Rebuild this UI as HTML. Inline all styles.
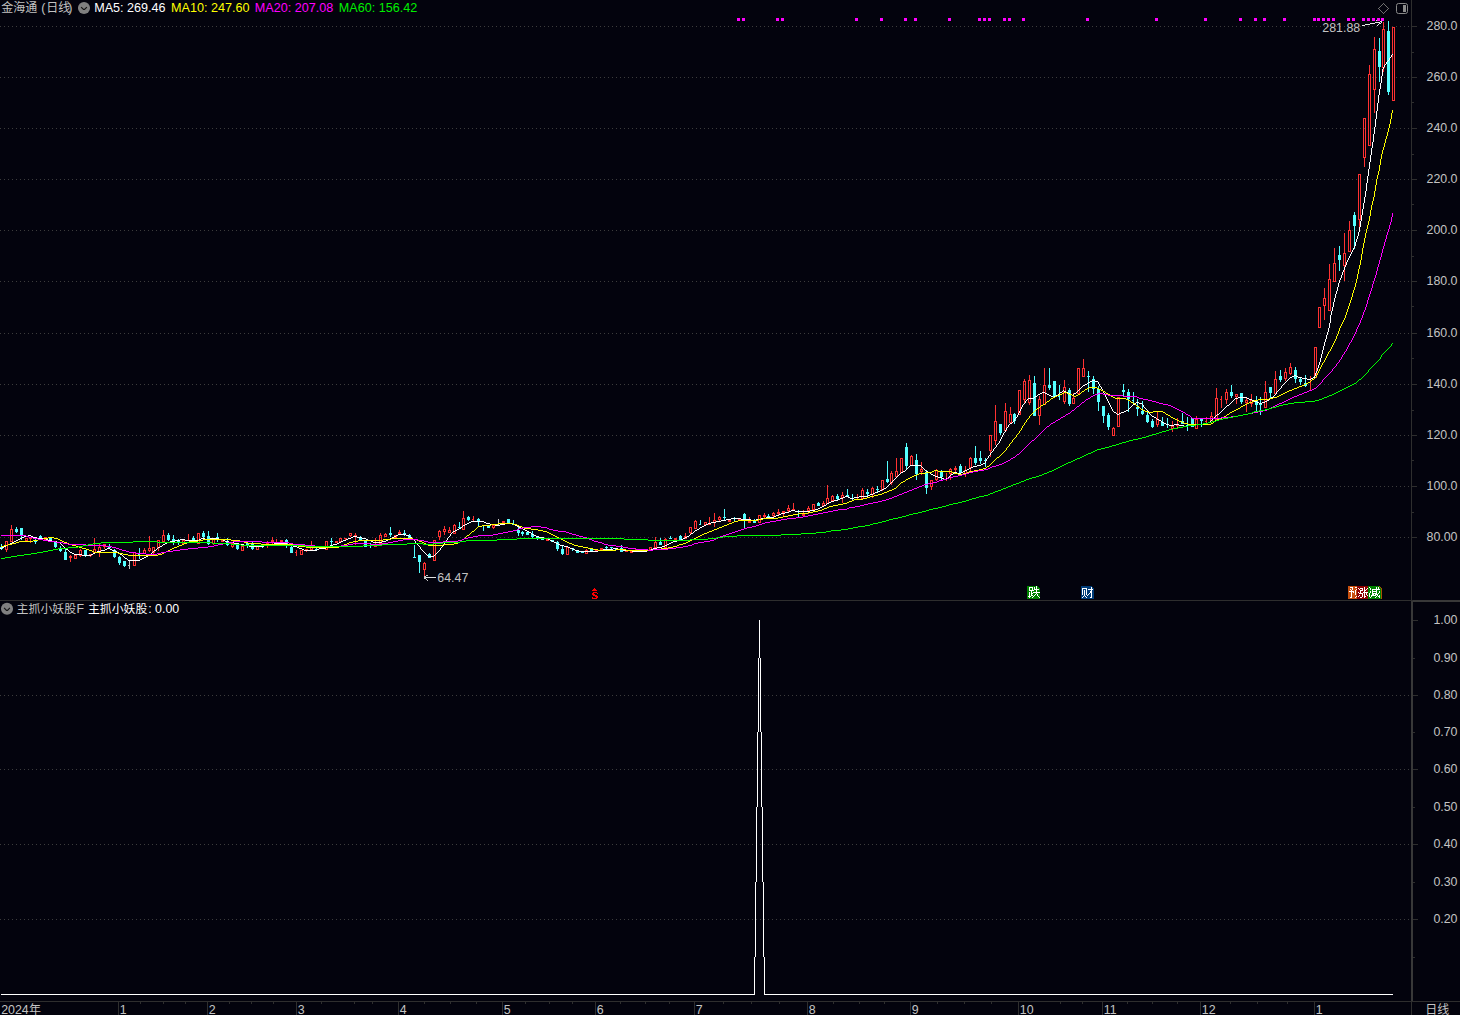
<!DOCTYPE html>
<html><head><meta charset="utf-8"><title>chart</title>
<style>
html,body{margin:0;padding:0;background:#03030d;overflow:hidden}
svg{display:block;font-family:"Liberation Sans","Noto Sans CJK SC",sans-serif}
</style></head><body>
<svg width="1460" height="1015" viewBox="0 0 1460 1015" shape-rendering="crispEdges">
<rect width="1460" height="1015" fill="#03030d"/>
<path d="M0 26.5H1411" stroke="#3c3c3c" stroke-width="1" stroke-dasharray="1 3" fill="none"/>
<path d="M0 77.5H1411" stroke="#3c3c3c" stroke-width="1" stroke-dasharray="1 3" fill="none"/>
<path d="M0 128.5H1411" stroke="#3c3c3c" stroke-width="1" stroke-dasharray="1 3" fill="none"/>
<path d="M0 179.5H1411" stroke="#3c3c3c" stroke-width="1" stroke-dasharray="1 3" fill="none"/>
<path d="M0 230.5H1411" stroke="#3c3c3c" stroke-width="1" stroke-dasharray="1 3" fill="none"/>
<path d="M0 281.5H1411" stroke="#3c3c3c" stroke-width="1" stroke-dasharray="1 3" fill="none"/>
<path d="M0 333.5H1411" stroke="#3c3c3c" stroke-width="1" stroke-dasharray="1 3" fill="none"/>
<path d="M0 384.5H1411" stroke="#3c3c3c" stroke-width="1" stroke-dasharray="1 3" fill="none"/>
<path d="M0 435.5H1411" stroke="#3c3c3c" stroke-width="1" stroke-dasharray="1 3" fill="none"/>
<path d="M0 486.5H1411" stroke="#3c3c3c" stroke-width="1" stroke-dasharray="1 3" fill="none"/>
<path d="M0 537.5H1411" stroke="#3c3c3c" stroke-width="1" stroke-dasharray="1 3" fill="none"/>
<path d="M0 695.5H1411" stroke="#3c3c3c" stroke-width="1" stroke-dasharray="1 3" fill="none"/>
<path d="M0 769.5H1411" stroke="#3c3c3c" stroke-width="1" stroke-dasharray="1 3" fill="none"/>
<path d="M0 844.5H1411" stroke="#3c3c3c" stroke-width="1" stroke-dasharray="1 3" fill="none"/>
<path d="M0 919.5H1411" stroke="#3c3c3c" stroke-width="1" stroke-dasharray="1 3" fill="none"/>
<rect x="1411" y="0" width="1" height="600" fill="#2e2e2e"/>
<rect x="0" y="600" width="1460" height="1" fill="#2e2e2e"/>
<rect x="1411" y="601" width="2" height="400" fill="#383838"/>
<rect x="1413" y="600" width="47" height="2" fill="#383838"/>
<rect x="0" y="1001" width="1460" height="1" fill="#2e2e2e"/>
<rect x="1411" y="1002" width="1" height="13" fill="#2e2e2e"/>
<rect x="1412" y="26" width="5" height="1" fill="#2e2e2e"/>
<text x="1457.5" y="29.7" fill="#c3c3c3" font-size="12.4" text-anchor="end">280.0</text>
<rect x="1412" y="77" width="5" height="1" fill="#2e2e2e"/>
<text x="1457.5" y="80.7" fill="#c3c3c3" font-size="12.4" text-anchor="end">260.0</text>
<rect x="1412" y="128" width="5" height="1" fill="#2e2e2e"/>
<text x="1457.5" y="131.7" fill="#c3c3c3" font-size="12.4" text-anchor="end">240.0</text>
<rect x="1412" y="179" width="5" height="1" fill="#2e2e2e"/>
<text x="1457.5" y="182.7" fill="#c3c3c3" font-size="12.4" text-anchor="end">220.0</text>
<rect x="1412" y="230" width="5" height="1" fill="#2e2e2e"/>
<text x="1457.5" y="233.7" fill="#c3c3c3" font-size="12.4" text-anchor="end">200.0</text>
<rect x="1412" y="281" width="5" height="1" fill="#2e2e2e"/>
<text x="1457.5" y="284.7" fill="#c3c3c3" font-size="12.4" text-anchor="end">180.0</text>
<rect x="1412" y="333" width="5" height="1" fill="#2e2e2e"/>
<text x="1457.5" y="336.7" fill="#c3c3c3" font-size="12.4" text-anchor="end">160.0</text>
<rect x="1412" y="384" width="5" height="1" fill="#2e2e2e"/>
<text x="1457.5" y="387.7" fill="#c3c3c3" font-size="12.4" text-anchor="end">140.0</text>
<rect x="1412" y="435" width="5" height="1" fill="#2e2e2e"/>
<text x="1457.5" y="438.7" fill="#c3c3c3" font-size="12.4" text-anchor="end">120.0</text>
<rect x="1412" y="486" width="5" height="1" fill="#2e2e2e"/>
<text x="1457.5" y="489.7" fill="#c3c3c3" font-size="12.4" text-anchor="end">100.0</text>
<rect x="1412" y="537" width="5" height="1" fill="#2e2e2e"/>
<text x="1457.5" y="540.7" fill="#c3c3c3" font-size="12.4" text-anchor="end">80.00</text>
<rect x="1412" y="52" width="2" height="1" fill="#2e2e2e"/>
<rect x="1412" y="102" width="2" height="1" fill="#2e2e2e"/>
<rect x="1412" y="154" width="2" height="1" fill="#2e2e2e"/>
<rect x="1412" y="204" width="2" height="1" fill="#2e2e2e"/>
<rect x="1412" y="256" width="2" height="1" fill="#2e2e2e"/>
<rect x="1412" y="306" width="2" height="1" fill="#2e2e2e"/>
<rect x="1412" y="358" width="2" height="1" fill="#2e2e2e"/>
<rect x="1412" y="410" width="2" height="1" fill="#2e2e2e"/>
<rect x="1412" y="460" width="2" height="1" fill="#2e2e2e"/>
<rect x="1412" y="512" width="2" height="1" fill="#2e2e2e"/>
<rect x="1413" y="620" width="5" height="1" fill="#2e2e2e"/>
<text x="1457.5" y="623.7" fill="#c3c3c3" font-size="12.4" text-anchor="end">1.00</text>
<rect x="1413" y="658" width="2" height="1" fill="#2e2e2e"/>
<text x="1457.5" y="661.7" fill="#c3c3c3" font-size="12.4" text-anchor="end">0.90</text>
<rect x="1413" y="695" width="5" height="1" fill="#2e2e2e"/>
<text x="1457.5" y="698.7" fill="#c3c3c3" font-size="12.4" text-anchor="end">0.80</text>
<rect x="1413" y="732" width="2" height="1" fill="#2e2e2e"/>
<text x="1457.5" y="735.7" fill="#c3c3c3" font-size="12.4" text-anchor="end">0.70</text>
<rect x="1413" y="769" width="5" height="1" fill="#2e2e2e"/>
<text x="1457.5" y="772.7" fill="#c3c3c3" font-size="12.4" text-anchor="end">0.60</text>
<rect x="1413" y="807" width="2" height="1" fill="#2e2e2e"/>
<text x="1457.5" y="810.7" fill="#c3c3c3" font-size="12.4" text-anchor="end">0.50</text>
<rect x="1413" y="844" width="5" height="1" fill="#2e2e2e"/>
<text x="1457.5" y="847.7" fill="#c3c3c3" font-size="12.4" text-anchor="end">0.40</text>
<rect x="1413" y="882" width="2" height="1" fill="#2e2e2e"/>
<text x="1457.5" y="885.7" fill="#c3c3c3" font-size="12.4" text-anchor="end">0.30</text>
<rect x="1413" y="919" width="5" height="1" fill="#2e2e2e"/>
<text x="1457.5" y="922.7" fill="#c3c3c3" font-size="12.4" text-anchor="end">0.20</text>
<rect x="1413" y="957" width="2" height="1" fill="#2e2e2e"/>
<rect x="1" y="544" width="1" height="6" fill="#54ffff"/>
<rect x="0" y="547" width="3" height="2" fill="#54ffff"/>
<rect x="6" y="550" width="1" height="2" fill="#ff3232"/>
<rect x="5" y="541" width="3" height="1" fill="#ff3232"/>
<rect x="5" y="549" width="3" height="1" fill="#ff3232"/>
<rect x="5" y="542" width="1" height="7" fill="#ff3232"/>
<rect x="7" y="542" width="1" height="7" fill="#ff3232"/>
<rect x="11" y="525" width="1" height="4" fill="#ff3232"/>
<rect x="10" y="529" width="3" height="1" fill="#ff3232"/>
<rect x="10" y="541" width="3" height="1" fill="#ff3232"/>
<rect x="10" y="530" width="1" height="11" fill="#ff3232"/>
<rect x="12" y="530" width="1" height="11" fill="#ff3232"/>
<rect x="16" y="527" width="1" height="6" fill="#54ffff"/>
<rect x="15" y="529" width="3" height="3" fill="#54ffff"/>
<rect x="21" y="528" width="1" height="12" fill="#54ffff"/>
<rect x="20" y="528" width="3" height="7" fill="#54ffff"/>
<rect x="25" y="538" width="3" height="1" fill="#ff3232"/>
<rect x="25" y="540" width="3" height="1" fill="#ff3232"/>
<rect x="25" y="539" width="1" height="1" fill="#ff3232"/>
<rect x="27" y="539" width="1" height="1" fill="#ff3232"/>
<rect x="30" y="537" width="1" height="6" fill="#ff3232"/>
<rect x="29" y="538" width="3" height="1" fill="#ff3232"/>
<rect x="35" y="538" width="1" height="6" fill="#54ffff"/>
<rect x="34" y="540" width="3" height="2" fill="#54ffff"/>
<rect x="40" y="535" width="1" height="5" fill="#54ffff"/>
<rect x="39" y="536" width="3" height="3" fill="#54ffff"/>
<rect x="44" y="537" width="3" height="1" fill="#ff3232"/>
<rect x="44" y="539" width="3" height="1" fill="#ff3232"/>
<rect x="44" y="538" width="1" height="1" fill="#ff3232"/>
<rect x="46" y="538" width="1" height="1" fill="#ff3232"/>
<rect x="50" y="537" width="1" height="4" fill="#54ffff"/>
<rect x="49" y="537" width="3" height="3" fill="#54ffff"/>
<rect x="55" y="541" width="1" height="7" fill="#54ffff"/>
<rect x="54" y="542" width="3" height="5" fill="#54ffff"/>
<rect x="60" y="546" width="1" height="6" fill="#54ffff"/>
<rect x="59" y="548" width="3" height="3" fill="#54ffff"/>
<rect x="65" y="549" width="1" height="11" fill="#54ffff"/>
<rect x="64" y="552" width="3" height="8" fill="#54ffff"/>
<rect x="70" y="555" width="1" height="7" fill="#ff3232"/>
<rect x="69" y="556" width="3" height="2" fill="#ff3232"/>
<rect x="74" y="555" width="3" height="1" fill="#ff3232"/>
<rect x="74" y="558" width="3" height="1" fill="#ff3232"/>
<rect x="74" y="556" width="1" height="2" fill="#ff3232"/>
<rect x="76" y="556" width="1" height="2" fill="#ff3232"/>
<rect x="80" y="549" width="1" height="1" fill="#ff3232"/>
<rect x="80" y="556" width="1" height="1" fill="#ff3232"/>
<rect x="79" y="550" width="3" height="1" fill="#ff3232"/>
<rect x="79" y="555" width="3" height="1" fill="#ff3232"/>
<rect x="79" y="551" width="1" height="4" fill="#ff3232"/>
<rect x="81" y="551" width="1" height="4" fill="#ff3232"/>
<rect x="85" y="550" width="1" height="7" fill="#54ffff"/>
<rect x="84" y="550" width="3" height="6" fill="#54ffff"/>
<rect x="90" y="554" width="1" height="3" fill="#ff3232"/>
<rect x="89" y="554" width="3" height="2" fill="#ff3232"/>
<rect x="94" y="538" width="1" height="11" fill="#ff3232"/>
<rect x="93" y="549" width="3" height="1" fill="#ff3232"/>
<rect x="93" y="552" width="3" height="1" fill="#ff3232"/>
<rect x="93" y="550" width="1" height="2" fill="#ff3232"/>
<rect x="95" y="550" width="1" height="2" fill="#ff3232"/>
<rect x="99" y="544" width="1" height="3" fill="#ff3232"/>
<rect x="99" y="552" width="1" height="5" fill="#ff3232"/>
<rect x="98" y="547" width="3" height="1" fill="#ff3232"/>
<rect x="98" y="551" width="3" height="1" fill="#ff3232"/>
<rect x="98" y="548" width="1" height="3" fill="#ff3232"/>
<rect x="100" y="548" width="1" height="3" fill="#ff3232"/>
<rect x="104" y="547" width="1" height="2" fill="#ff3232"/>
<rect x="103" y="544" width="3" height="1" fill="#ff3232"/>
<rect x="103" y="546" width="3" height="1" fill="#ff3232"/>
<rect x="103" y="545" width="1" height="1" fill="#ff3232"/>
<rect x="105" y="545" width="1" height="1" fill="#ff3232"/>
<rect x="109" y="544" width="1" height="5" fill="#54ffff"/>
<rect x="108" y="546" width="3" height="2" fill="#54ffff"/>
<rect x="114" y="549" width="1" height="9" fill="#54ffff"/>
<rect x="113" y="550" width="3" height="7" fill="#54ffff"/>
<rect x="119" y="556" width="1" height="9" fill="#54ffff"/>
<rect x="118" y="557" width="3" height="6" fill="#54ffff"/>
<rect x="124" y="561" width="1" height="6" fill="#54ffff"/>
<rect x="123" y="561" width="3" height="5" fill="#54ffff"/>
<rect x="129" y="560" width="1" height="9" fill="#c8c8c8"/>
<rect x="128" y="565" width="2" height="1" fill="#c8c8c8"/>
<rect x="133" y="552" width="3" height="1" fill="#ff3232"/>
<rect x="133" y="565" width="3" height="1" fill="#ff3232"/>
<rect x="133" y="553" width="1" height="12" fill="#ff3232"/>
<rect x="135" y="553" width="1" height="12" fill="#ff3232"/>
<rect x="139" y="548" width="1" height="11" fill="#54ffff"/>
<rect x="138" y="554" width="1" height="1" fill="#54ffff"/>
<rect x="144" y="548" width="1" height="2" fill="#ff3232"/>
<rect x="143" y="550" width="3" height="1" fill="#ff3232"/>
<rect x="143" y="553" width="3" height="1" fill="#ff3232"/>
<rect x="143" y="551" width="1" height="2" fill="#ff3232"/>
<rect x="145" y="551" width="1" height="2" fill="#ff3232"/>
<rect x="149" y="536" width="1" height="12" fill="#ff3232"/>
<rect x="149" y="551" width="1" height="1" fill="#ff3232"/>
<rect x="148" y="548" width="3" height="1" fill="#ff3232"/>
<rect x="148" y="550" width="3" height="1" fill="#ff3232"/>
<rect x="148" y="549" width="1" height="1" fill="#ff3232"/>
<rect x="150" y="549" width="1" height="1" fill="#ff3232"/>
<rect x="153" y="553" width="1" height="1" fill="#ff3232"/>
<rect x="152" y="547" width="3" height="1" fill="#ff3232"/>
<rect x="152" y="552" width="3" height="1" fill="#ff3232"/>
<rect x="152" y="548" width="1" height="4" fill="#ff3232"/>
<rect x="154" y="548" width="1" height="4" fill="#ff3232"/>
<rect x="158" y="548" width="1" height="3" fill="#ff3232"/>
<rect x="157" y="540" width="3" height="1" fill="#ff3232"/>
<rect x="157" y="547" width="3" height="1" fill="#ff3232"/>
<rect x="157" y="541" width="1" height="6" fill="#ff3232"/>
<rect x="159" y="541" width="1" height="6" fill="#ff3232"/>
<rect x="163" y="530" width="1" height="5" fill="#ff3232"/>
<rect x="162" y="535" width="3" height="1" fill="#ff3232"/>
<rect x="162" y="541" width="3" height="1" fill="#ff3232"/>
<rect x="162" y="536" width="1" height="5" fill="#ff3232"/>
<rect x="164" y="536" width="1" height="5" fill="#ff3232"/>
<rect x="168" y="533" width="1" height="8" fill="#54ffff"/>
<rect x="167" y="535" width="3" height="5" fill="#54ffff"/>
<rect x="173" y="535" width="1" height="10" fill="#54ffff"/>
<rect x="172" y="539" width="3" height="3" fill="#54ffff"/>
<rect x="178" y="539" width="1" height="6" fill="#54ffff"/>
<rect x="177" y="540" width="3" height="3" fill="#54ffff"/>
<rect x="182" y="540" width="3" height="1" fill="#ff3232"/>
<rect x="182" y="543" width="3" height="1" fill="#ff3232"/>
<rect x="182" y="541" width="1" height="2" fill="#ff3232"/>
<rect x="184" y="541" width="1" height="2" fill="#ff3232"/>
<rect x="188" y="534" width="1" height="7" fill="#ff3232"/>
<rect x="187" y="540" width="3" height="1" fill="#ff3232"/>
<rect x="193" y="536" width="1" height="6" fill="#54ffff"/>
<rect x="192" y="538" width="3" height="4" fill="#54ffff"/>
<rect x="197" y="533" width="3" height="1" fill="#ff3232"/>
<rect x="197" y="543" width="3" height="1" fill="#ff3232"/>
<rect x="197" y="534" width="1" height="9" fill="#ff3232"/>
<rect x="199" y="534" width="1" height="9" fill="#ff3232"/>
<rect x="203" y="531" width="1" height="8" fill="#54ffff"/>
<rect x="202" y="533" width="3" height="4" fill="#54ffff"/>
<rect x="208" y="531" width="1" height="14" fill="#54ffff"/>
<rect x="207" y="536" width="3" height="8" fill="#54ffff"/>
<rect x="213" y="544" width="1" height="1" fill="#ff3232"/>
<rect x="212" y="538" width="3" height="1" fill="#ff3232"/>
<rect x="212" y="543" width="3" height="1" fill="#ff3232"/>
<rect x="212" y="539" width="1" height="4" fill="#ff3232"/>
<rect x="214" y="539" width="1" height="4" fill="#ff3232"/>
<rect x="217" y="533" width="1" height="9" fill="#54ffff"/>
<rect x="216" y="537" width="3" height="3" fill="#54ffff"/>
<rect x="222" y="540" width="1" height="2" fill="#ff3232"/>
<rect x="221" y="540" width="3" height="2" fill="#ff3232"/>
<rect x="227" y="538" width="1" height="8" fill="#54ffff"/>
<rect x="226" y="541" width="3" height="4" fill="#54ffff"/>
<rect x="232" y="547" width="1" height="1" fill="#ff3232"/>
<rect x="231" y="543" width="3" height="1" fill="#ff3232"/>
<rect x="231" y="546" width="3" height="1" fill="#ff3232"/>
<rect x="231" y="544" width="1" height="2" fill="#ff3232"/>
<rect x="233" y="544" width="1" height="2" fill="#ff3232"/>
<rect x="237" y="543" width="1" height="7" fill="#54ffff"/>
<rect x="236" y="543" width="3" height="6" fill="#54ffff"/>
<rect x="241" y="546" width="3" height="1" fill="#ff3232"/>
<rect x="241" y="550" width="3" height="1" fill="#ff3232"/>
<rect x="241" y="547" width="1" height="3" fill="#ff3232"/>
<rect x="243" y="547" width="1" height="3" fill="#ff3232"/>
<rect x="247" y="542" width="1" height="6" fill="#54ffff"/>
<rect x="246" y="543" width="3" height="2" fill="#54ffff"/>
<rect x="252" y="542" width="1" height="8" fill="#54ffff"/>
<rect x="251" y="544" width="3" height="5" fill="#54ffff"/>
<rect x="256" y="546" width="3" height="1" fill="#ff3232"/>
<rect x="256" y="549" width="3" height="1" fill="#ff3232"/>
<rect x="256" y="547" width="1" height="2" fill="#ff3232"/>
<rect x="258" y="547" width="1" height="2" fill="#ff3232"/>
<rect x="262" y="544" width="1" height="4" fill="#54ffff"/>
<rect x="261" y="545" width="1" height="1" fill="#54ffff"/>
<rect x="267" y="541" width="1" height="7" fill="#ff3232"/>
<rect x="266" y="543" width="3" height="2" fill="#ff3232"/>
<rect x="272" y="537" width="1" height="3" fill="#ff3232"/>
<rect x="272" y="542" width="1" height="2" fill="#ff3232"/>
<rect x="271" y="540" width="3" height="2" fill="#ff3232"/>
<rect x="276" y="539" width="1" height="5" fill="#ff3232"/>
<rect x="275" y="542" width="3" height="2" fill="#ff3232"/>
<rect x="281" y="540" width="1" height="3" fill="#ff3232"/>
<rect x="280" y="540" width="3" height="2" fill="#ff3232"/>
<rect x="286" y="539" width="1" height="9" fill="#54ffff"/>
<rect x="285" y="540" width="3" height="4" fill="#54ffff"/>
<rect x="291" y="546" width="1" height="7" fill="#54ffff"/>
<rect x="290" y="547" width="3" height="6" fill="#54ffff"/>
<rect x="296" y="550" width="1" height="6" fill="#ff3232"/>
<rect x="295" y="552" width="1" height="1" fill="#ff3232"/>
<rect x="300" y="550" width="3" height="1" fill="#ff3232"/>
<rect x="300" y="554" width="3" height="1" fill="#ff3232"/>
<rect x="300" y="551" width="1" height="3" fill="#ff3232"/>
<rect x="302" y="551" width="1" height="3" fill="#ff3232"/>
<rect x="306" y="549" width="1" height="3" fill="#ff3232"/>
<rect x="305" y="549" width="3" height="2" fill="#ff3232"/>
<rect x="311" y="541" width="1" height="5" fill="#ff3232"/>
<rect x="310" y="546" width="3" height="1" fill="#ff3232"/>
<rect x="310" y="549" width="3" height="1" fill="#ff3232"/>
<rect x="310" y="547" width="1" height="2" fill="#ff3232"/>
<rect x="312" y="547" width="1" height="2" fill="#ff3232"/>
<rect x="316" y="548" width="1" height="3" fill="#54ffff"/>
<rect x="315" y="549" width="3" height="1" fill="#54ffff"/>
<rect x="321" y="546" width="1" height="2" fill="#ff3232"/>
<rect x="320" y="546" width="3" height="2" fill="#ff3232"/>
<rect x="325" y="541" width="3" height="1" fill="#ff3232"/>
<rect x="325" y="549" width="3" height="1" fill="#ff3232"/>
<rect x="325" y="542" width="1" height="7" fill="#ff3232"/>
<rect x="327" y="542" width="1" height="7" fill="#ff3232"/>
<rect x="331" y="538" width="1" height="7" fill="#54ffff"/>
<rect x="330" y="541" width="3" height="1" fill="#54ffff"/>
<rect x="336" y="541" width="1" height="2" fill="#ff3232"/>
<rect x="335" y="541" width="3" height="2" fill="#ff3232"/>
<rect x="339" y="538" width="3" height="1" fill="#ff3232"/>
<rect x="339" y="541" width="3" height="1" fill="#ff3232"/>
<rect x="339" y="539" width="1" height="2" fill="#ff3232"/>
<rect x="341" y="539" width="1" height="2" fill="#ff3232"/>
<rect x="345" y="538" width="1" height="2" fill="#ff3232"/>
<rect x="344" y="538" width="3" height="1" fill="#ff3232"/>
<rect x="350" y="536" width="1" height="1" fill="#ff3232"/>
<rect x="349" y="533" width="3" height="1" fill="#ff3232"/>
<rect x="349" y="535" width="3" height="1" fill="#ff3232"/>
<rect x="349" y="534" width="1" height="1" fill="#ff3232"/>
<rect x="351" y="534" width="1" height="1" fill="#ff3232"/>
<rect x="355" y="533" width="1" height="12" fill="#ff3232"/>
<rect x="354" y="535" width="3" height="2" fill="#ff3232"/>
<rect x="360" y="536" width="1" height="4" fill="#54ffff"/>
<rect x="359" y="537" width="3" height="3" fill="#54ffff"/>
<rect x="365" y="540" width="1" height="7" fill="#54ffff"/>
<rect x="364" y="540" width="3" height="7" fill="#54ffff"/>
<rect x="370" y="543" width="1" height="5" fill="#54ffff"/>
<rect x="369" y="545" width="1" height="1" fill="#54ffff"/>
<rect x="375" y="538" width="1" height="6" fill="#ff3232"/>
<rect x="374" y="544" width="3" height="1" fill="#ff3232"/>
<rect x="374" y="546" width="3" height="1" fill="#ff3232"/>
<rect x="374" y="545" width="1" height="1" fill="#ff3232"/>
<rect x="376" y="545" width="1" height="1" fill="#ff3232"/>
<rect x="380" y="533" width="1" height="2" fill="#ff3232"/>
<rect x="379" y="535" width="3" height="1" fill="#ff3232"/>
<rect x="379" y="543" width="3" height="1" fill="#ff3232"/>
<rect x="379" y="536" width="1" height="7" fill="#ff3232"/>
<rect x="381" y="536" width="1" height="7" fill="#ff3232"/>
<rect x="385" y="533" width="1" height="1" fill="#ff3232"/>
<rect x="384" y="534" width="3" height="1" fill="#ff3232"/>
<rect x="384" y="536" width="3" height="1" fill="#ff3232"/>
<rect x="384" y="535" width="1" height="1" fill="#ff3232"/>
<rect x="386" y="535" width="1" height="1" fill="#ff3232"/>
<rect x="390" y="527" width="1" height="10" fill="#54ffff"/>
<rect x="389" y="533" width="3" height="2" fill="#54ffff"/>
<rect x="394" y="535" width="3" height="1" fill="#ff3232"/>
<rect x="394" y="537" width="3" height="1" fill="#ff3232"/>
<rect x="394" y="536" width="1" height="1" fill="#ff3232"/>
<rect x="396" y="536" width="1" height="1" fill="#ff3232"/>
<rect x="399" y="530" width="1" height="4" fill="#ff3232"/>
<rect x="398" y="532" width="3" height="2" fill="#ff3232"/>
<rect x="404" y="530" width="1" height="6" fill="#54ffff"/>
<rect x="403" y="533" width="3" height="1" fill="#54ffff"/>
<rect x="409" y="534" width="1" height="4" fill="#54ffff"/>
<rect x="408" y="535" width="3" height="3" fill="#54ffff"/>
<rect x="414" y="545" width="1" height="13" fill="#54ffff"/>
<rect x="413" y="557" width="3" height="1" fill="#54ffff"/>
<rect x="419" y="555" width="1" height="18" fill="#54ffff"/>
<rect x="418" y="555" width="3" height="7" fill="#54ffff"/>
<rect x="424" y="562" width="1" height="1" fill="#ff3232"/>
<rect x="424" y="570" width="1" height="6" fill="#ff3232"/>
<rect x="423" y="563" width="3" height="1" fill="#ff3232"/>
<rect x="423" y="569" width="3" height="1" fill="#ff3232"/>
<rect x="423" y="564" width="1" height="5" fill="#ff3232"/>
<rect x="425" y="564" width="1" height="5" fill="#ff3232"/>
<rect x="429" y="553" width="1" height="5" fill="#54ffff"/>
<rect x="428" y="554" width="3" height="4" fill="#54ffff"/>
<rect x="433" y="540" width="3" height="1" fill="#ff3232"/>
<rect x="433" y="560" width="3" height="1" fill="#ff3232"/>
<rect x="433" y="541" width="1" height="19" fill="#ff3232"/>
<rect x="435" y="541" width="1" height="19" fill="#ff3232"/>
<rect x="439" y="530" width="1" height="1" fill="#ff3232"/>
<rect x="439" y="537" width="1" height="3" fill="#ff3232"/>
<rect x="438" y="531" width="3" height="1" fill="#ff3232"/>
<rect x="438" y="536" width="3" height="1" fill="#ff3232"/>
<rect x="438" y="532" width="1" height="4" fill="#ff3232"/>
<rect x="440" y="532" width="1" height="4" fill="#ff3232"/>
<rect x="444" y="526" width="1" height="3" fill="#ff3232"/>
<rect x="444" y="532" width="1" height="3" fill="#ff3232"/>
<rect x="443" y="529" width="3" height="1" fill="#ff3232"/>
<rect x="443" y="531" width="3" height="1" fill="#ff3232"/>
<rect x="443" y="530" width="1" height="1" fill="#ff3232"/>
<rect x="445" y="530" width="1" height="1" fill="#ff3232"/>
<rect x="449" y="527" width="1" height="3" fill="#ff3232"/>
<rect x="448" y="530" width="3" height="1" fill="#ff3232"/>
<rect x="448" y="532" width="3" height="1" fill="#ff3232"/>
<rect x="448" y="531" width="1" height="1" fill="#ff3232"/>
<rect x="450" y="531" width="1" height="1" fill="#ff3232"/>
<rect x="454" y="524" width="1" height="1" fill="#ff3232"/>
<rect x="453" y="525" width="3" height="1" fill="#ff3232"/>
<rect x="453" y="533" width="3" height="1" fill="#ff3232"/>
<rect x="453" y="526" width="1" height="7" fill="#ff3232"/>
<rect x="455" y="526" width="1" height="7" fill="#ff3232"/>
<rect x="459" y="522" width="1" height="6" fill="#54ffff"/>
<rect x="458" y="527" width="3" height="1" fill="#54ffff"/>
<rect x="463" y="511" width="1" height="7" fill="#ff3232"/>
<rect x="462" y="518" width="3" height="1" fill="#ff3232"/>
<rect x="462" y="529" width="3" height="1" fill="#ff3232"/>
<rect x="462" y="519" width="1" height="10" fill="#ff3232"/>
<rect x="464" y="519" width="1" height="10" fill="#ff3232"/>
<rect x="468" y="516" width="1" height="5" fill="#54ffff"/>
<rect x="467" y="517" width="3" height="3" fill="#54ffff"/>
<rect x="473" y="516" width="1" height="6" fill="#ff3232"/>
<rect x="472" y="519" width="1" height="1" fill="#ff3232"/>
<rect x="478" y="518" width="1" height="8" fill="#54ffff"/>
<rect x="477" y="519" width="3" height="3" fill="#54ffff"/>
<rect x="483" y="525" width="1" height="6" fill="#54ffff"/>
<rect x="482" y="525" width="3" height="1" fill="#54ffff"/>
<rect x="488" y="525" width="1" height="3" fill="#54ffff"/>
<rect x="487" y="526" width="3" height="2" fill="#54ffff"/>
<rect x="493" y="528" width="1" height="1" fill="#ff3232"/>
<rect x="492" y="525" width="3" height="1" fill="#ff3232"/>
<rect x="492" y="527" width="3" height="1" fill="#ff3232"/>
<rect x="492" y="526" width="1" height="1" fill="#ff3232"/>
<rect x="494" y="526" width="1" height="1" fill="#ff3232"/>
<rect x="498" y="519" width="1" height="7" fill="#c8c8c8"/>
<rect x="497" y="525" width="2" height="1" fill="#c8c8c8"/>
<rect x="503" y="521" width="1" height="2" fill="#ff3232"/>
<rect x="502" y="521" width="3" height="2" fill="#ff3232"/>
<rect x="508" y="519" width="1" height="4" fill="#54ffff"/>
<rect x="507" y="519" width="3" height="4" fill="#54ffff"/>
<rect x="513" y="520" width="1" height="5" fill="#54ffff"/>
<rect x="512" y="524" width="3" height="1" fill="#54ffff"/>
<rect x="518" y="525" width="1" height="11" fill="#54ffff"/>
<rect x="517" y="530" width="3" height="3" fill="#54ffff"/>
<rect x="522" y="531" width="1" height="5" fill="#54ffff"/>
<rect x="521" y="532" width="3" height="2" fill="#54ffff"/>
<rect x="527" y="532" width="1" height="3" fill="#54ffff"/>
<rect x="526" y="532" width="3" height="3" fill="#54ffff"/>
<rect x="532" y="531" width="1" height="7" fill="#54ffff"/>
<rect x="531" y="534" width="3" height="3" fill="#54ffff"/>
<rect x="537" y="536" width="1" height="4" fill="#54ffff"/>
<rect x="536" y="537" width="3" height="2" fill="#54ffff"/>
<rect x="542" y="539" width="1" height="1" fill="#54ffff"/>
<rect x="541" y="539" width="3" height="1" fill="#54ffff"/>
<rect x="547" y="539" width="1" height="2" fill="#ff3232"/>
<rect x="546" y="539" width="3" height="2" fill="#ff3232"/>
<rect x="552" y="540" width="1" height="2" fill="#54ffff"/>
<rect x="551" y="540" width="3" height="2" fill="#54ffff"/>
<rect x="557" y="541" width="1" height="10" fill="#54ffff"/>
<rect x="556" y="542" width="3" height="7" fill="#54ffff"/>
<rect x="562" y="546" width="1" height="9" fill="#54ffff"/>
<rect x="561" y="549" width="3" height="5" fill="#54ffff"/>
<rect x="566" y="547" width="3" height="1" fill="#ff3232"/>
<rect x="566" y="554" width="3" height="1" fill="#ff3232"/>
<rect x="566" y="548" width="1" height="6" fill="#ff3232"/>
<rect x="568" y="548" width="1" height="6" fill="#ff3232"/>
<rect x="572" y="548" width="1" height="3" fill="#54ffff"/>
<rect x="571" y="548" width="3" height="1" fill="#54ffff"/>
<rect x="577" y="551" width="1" height="2" fill="#54ffff"/>
<rect x="576" y="551" width="3" height="2" fill="#54ffff"/>
<rect x="582" y="552" width="1" height="1" fill="#54ffff"/>
<rect x="581" y="552" width="3" height="1" fill="#54ffff"/>
<rect x="586" y="549" width="1" height="1" fill="#ff3232"/>
<rect x="585" y="550" width="3" height="1" fill="#ff3232"/>
<rect x="585" y="553" width="3" height="1" fill="#ff3232"/>
<rect x="585" y="551" width="1" height="2" fill="#ff3232"/>
<rect x="587" y="551" width="1" height="2" fill="#ff3232"/>
<rect x="591" y="549" width="1" height="2" fill="#54ffff"/>
<rect x="590" y="549" width="3" height="2" fill="#54ffff"/>
<rect x="596" y="550" width="1" height="1" fill="#ff3232"/>
<rect x="595" y="550" width="3" height="1" fill="#ff3232"/>
<rect x="600" y="548" width="3" height="2" fill="#ff3232"/>
<rect x="606" y="546" width="1" height="3" fill="#54ffff"/>
<rect x="605" y="547" width="3" height="1" fill="#54ffff"/>
<rect x="611" y="547" width="1" height="3" fill="#54ffff"/>
<rect x="610" y="547" width="3" height="1" fill="#54ffff"/>
<rect x="616" y="549" width="1" height="1" fill="#54ffff"/>
<rect x="615" y="549" width="3" height="1" fill="#54ffff"/>
<rect x="621" y="545" width="1" height="7" fill="#54ffff"/>
<rect x="620" y="548" width="3" height="4" fill="#54ffff"/>
<rect x="626" y="551" width="1" height="1" fill="#ff3232"/>
<rect x="625" y="551" width="3" height="1" fill="#ff3232"/>
<rect x="631" y="551" width="1" height="2" fill="#ff3232"/>
<rect x="630" y="551" width="3" height="2" fill="#ff3232"/>
<rect x="636" y="549" width="1" height="2" fill="#ff3232"/>
<rect x="635" y="549" width="3" height="2" fill="#ff3232"/>
<rect x="641" y="549" width="1" height="1" fill="#ff3232"/>
<rect x="640" y="549" width="3" height="1" fill="#ff3232"/>
<rect x="645" y="549" width="1" height="2" fill="#ff3232"/>
<rect x="644" y="549" width="3" height="2" fill="#ff3232"/>
<rect x="649" y="547" width="3" height="1" fill="#ff3232"/>
<rect x="649" y="549" width="3" height="1" fill="#ff3232"/>
<rect x="649" y="548" width="1" height="1" fill="#ff3232"/>
<rect x="651" y="548" width="1" height="1" fill="#ff3232"/>
<rect x="655" y="537" width="1" height="5" fill="#ff3232"/>
<rect x="654" y="542" width="3" height="1" fill="#ff3232"/>
<rect x="654" y="547" width="3" height="1" fill="#ff3232"/>
<rect x="654" y="543" width="1" height="4" fill="#ff3232"/>
<rect x="656" y="543" width="1" height="4" fill="#ff3232"/>
<rect x="660" y="538" width="1" height="7" fill="#54ffff"/>
<rect x="659" y="542" width="3" height="3" fill="#54ffff"/>
<rect x="665" y="538" width="1" height="1" fill="#ff3232"/>
<rect x="664" y="539" width="3" height="1" fill="#ff3232"/>
<rect x="664" y="547" width="3" height="1" fill="#ff3232"/>
<rect x="664" y="540" width="1" height="7" fill="#ff3232"/>
<rect x="666" y="540" width="1" height="7" fill="#ff3232"/>
<rect x="670" y="536" width="1" height="3" fill="#54ffff"/>
<rect x="669" y="538" width="3" height="1" fill="#54ffff"/>
<rect x="675" y="538" width="1" height="2" fill="#ff3232"/>
<rect x="674" y="538" width="3" height="2" fill="#ff3232"/>
<rect x="680" y="535" width="1" height="5" fill="#54ffff"/>
<rect x="679" y="536" width="3" height="4" fill="#54ffff"/>
<rect x="685" y="533" width="1" height="3" fill="#ff3232"/>
<rect x="684" y="536" width="3" height="1" fill="#ff3232"/>
<rect x="684" y="538" width="3" height="1" fill="#ff3232"/>
<rect x="684" y="537" width="1" height="1" fill="#ff3232"/>
<rect x="686" y="537" width="1" height="1" fill="#ff3232"/>
<rect x="690" y="533" width="1" height="2" fill="#ff3232"/>
<rect x="689" y="527" width="3" height="1" fill="#ff3232"/>
<rect x="689" y="532" width="3" height="1" fill="#ff3232"/>
<rect x="689" y="528" width="1" height="4" fill="#ff3232"/>
<rect x="691" y="528" width="1" height="4" fill="#ff3232"/>
<rect x="695" y="520" width="1" height="1" fill="#ff3232"/>
<rect x="694" y="521" width="3" height="1" fill="#ff3232"/>
<rect x="694" y="528" width="3" height="1" fill="#ff3232"/>
<rect x="694" y="522" width="1" height="6" fill="#ff3232"/>
<rect x="696" y="522" width="1" height="6" fill="#ff3232"/>
<rect x="700" y="520" width="1" height="5" fill="#54ffff"/>
<rect x="699" y="524" width="1" height="1" fill="#54ffff"/>
<rect x="704" y="522" width="3" height="1" fill="#ff3232"/>
<rect x="704" y="524" width="3" height="1" fill="#ff3232"/>
<rect x="704" y="523" width="1" height="1" fill="#ff3232"/>
<rect x="706" y="523" width="1" height="1" fill="#ff3232"/>
<rect x="709" y="517" width="1" height="8" fill="#ff3232"/>
<rect x="708" y="523" width="3" height="2" fill="#ff3232"/>
<rect x="714" y="513" width="1" height="7" fill="#ff3232"/>
<rect x="714" y="523" width="1" height="4" fill="#ff3232"/>
<rect x="713" y="520" width="3" height="1" fill="#ff3232"/>
<rect x="713" y="522" width="3" height="1" fill="#ff3232"/>
<rect x="713" y="521" width="1" height="1" fill="#ff3232"/>
<rect x="715" y="521" width="1" height="1" fill="#ff3232"/>
<rect x="719" y="516" width="1" height="1" fill="#ff3232"/>
<rect x="719" y="520" width="1" height="1" fill="#ff3232"/>
<rect x="718" y="517" width="3" height="1" fill="#ff3232"/>
<rect x="718" y="519" width="3" height="1" fill="#ff3232"/>
<rect x="718" y="518" width="1" height="1" fill="#ff3232"/>
<rect x="720" y="518" width="1" height="1" fill="#ff3232"/>
<rect x="724" y="509" width="1" height="11" fill="#54ffff"/>
<rect x="723" y="517" width="3" height="1" fill="#54ffff"/>
<rect x="729" y="520" width="1" height="2" fill="#ff3232"/>
<rect x="728" y="520" width="3" height="2" fill="#ff3232"/>
<rect x="734" y="517" width="1" height="4" fill="#54ffff"/>
<rect x="733" y="518" width="3" height="1" fill="#54ffff"/>
<rect x="738" y="518" width="3" height="2" fill="#ff3232"/>
<rect x="744" y="513" width="1" height="15" fill="#54ffff"/>
<rect x="743" y="514" width="3" height="6" fill="#54ffff"/>
<rect x="749" y="517" width="1" height="6" fill="#ff3232"/>
<rect x="748" y="520" width="3" height="3" fill="#ff3232"/>
<rect x="754" y="519" width="1" height="4" fill="#54ffff"/>
<rect x="753" y="521" width="3" height="2" fill="#54ffff"/>
<rect x="758" y="515" width="3" height="1" fill="#ff3232"/>
<rect x="758" y="522" width="3" height="1" fill="#ff3232"/>
<rect x="758" y="516" width="1" height="6" fill="#ff3232"/>
<rect x="760" y="516" width="1" height="6" fill="#ff3232"/>
<rect x="764" y="513" width="1" height="2" fill="#ff3232"/>
<rect x="764" y="517" width="1" height="1" fill="#ff3232"/>
<rect x="763" y="515" width="3" height="2" fill="#ff3232"/>
<rect x="768" y="514" width="1" height="4" fill="#54ffff"/>
<rect x="767" y="516" width="3" height="1" fill="#54ffff"/>
<rect x="773" y="512" width="1" height="1" fill="#ff3232"/>
<rect x="773" y="516" width="1" height="2" fill="#ff3232"/>
<rect x="772" y="513" width="3" height="1" fill="#ff3232"/>
<rect x="772" y="515" width="3" height="1" fill="#ff3232"/>
<rect x="772" y="514" width="1" height="1" fill="#ff3232"/>
<rect x="774" y="514" width="1" height="1" fill="#ff3232"/>
<rect x="778" y="509" width="1" height="6" fill="#ff3232"/>
<rect x="777" y="512" width="3" height="2" fill="#ff3232"/>
<rect x="783" y="513" width="1" height="3" fill="#ff3232"/>
<rect x="782" y="511" width="3" height="2" fill="#ff3232"/>
<rect x="788" y="505" width="1" height="3" fill="#ff3232"/>
<rect x="788" y="511" width="1" height="1" fill="#ff3232"/>
<rect x="787" y="508" width="3" height="1" fill="#ff3232"/>
<rect x="787" y="510" width="3" height="1" fill="#ff3232"/>
<rect x="787" y="509" width="1" height="1" fill="#ff3232"/>
<rect x="789" y="509" width="1" height="1" fill="#ff3232"/>
<rect x="793" y="503" width="1" height="7" fill="#ff3232"/>
<rect x="792" y="509" width="3" height="1" fill="#ff3232"/>
<rect x="798" y="510" width="1" height="7" fill="#54ffff"/>
<rect x="797" y="511" width="3" height="1" fill="#54ffff"/>
<rect x="803" y="510" width="1" height="6" fill="#ff3232"/>
<rect x="802" y="514" width="3" height="2" fill="#ff3232"/>
<rect x="808" y="506" width="1" height="2" fill="#ff3232"/>
<rect x="808" y="511" width="1" height="3" fill="#ff3232"/>
<rect x="807" y="508" width="3" height="1" fill="#ff3232"/>
<rect x="807" y="510" width="3" height="1" fill="#ff3232"/>
<rect x="807" y="509" width="1" height="1" fill="#ff3232"/>
<rect x="809" y="509" width="1" height="1" fill="#ff3232"/>
<rect x="812" y="504" width="3" height="1" fill="#ff3232"/>
<rect x="812" y="509" width="3" height="1" fill="#ff3232"/>
<rect x="812" y="505" width="1" height="4" fill="#ff3232"/>
<rect x="814" y="505" width="1" height="4" fill="#ff3232"/>
<rect x="818" y="502" width="1" height="4" fill="#54ffff"/>
<rect x="817" y="503" width="3" height="3" fill="#54ffff"/>
<rect x="823" y="501" width="1" height="2" fill="#ff3232"/>
<rect x="823" y="506" width="1" height="1" fill="#ff3232"/>
<rect x="822" y="503" width="3" height="1" fill="#ff3232"/>
<rect x="822" y="505" width="3" height="1" fill="#ff3232"/>
<rect x="822" y="504" width="1" height="1" fill="#ff3232"/>
<rect x="824" y="504" width="1" height="1" fill="#ff3232"/>
<rect x="827" y="485" width="1" height="13" fill="#ff3232"/>
<rect x="826" y="498" width="3" height="1" fill="#ff3232"/>
<rect x="826" y="503" width="3" height="1" fill="#ff3232"/>
<rect x="826" y="499" width="1" height="4" fill="#ff3232"/>
<rect x="828" y="499" width="1" height="4" fill="#ff3232"/>
<rect x="832" y="495" width="1" height="1" fill="#ff3232"/>
<rect x="832" y="501" width="1" height="1" fill="#ff3232"/>
<rect x="831" y="496" width="3" height="1" fill="#ff3232"/>
<rect x="831" y="500" width="3" height="1" fill="#ff3232"/>
<rect x="831" y="497" width="1" height="3" fill="#ff3232"/>
<rect x="833" y="497" width="1" height="3" fill="#ff3232"/>
<rect x="837" y="494" width="1" height="6" fill="#54ffff"/>
<rect x="836" y="496" width="3" height="3" fill="#54ffff"/>
<rect x="842" y="492" width="1" height="3" fill="#ff3232"/>
<rect x="842" y="498" width="1" height="5" fill="#ff3232"/>
<rect x="841" y="495" width="3" height="1" fill="#ff3232"/>
<rect x="841" y="497" width="3" height="1" fill="#ff3232"/>
<rect x="841" y="496" width="1" height="1" fill="#ff3232"/>
<rect x="843" y="496" width="1" height="1" fill="#ff3232"/>
<rect x="847" y="489" width="1" height="8" fill="#54ffff"/>
<rect x="846" y="495" width="3" height="2" fill="#54ffff"/>
<rect x="852" y="494" width="1" height="6" fill="#54ffff"/>
<rect x="851" y="498" width="3" height="1" fill="#54ffff"/>
<rect x="857" y="494" width="1" height="5" fill="#ff3232"/>
<rect x="856" y="497" width="1" height="1" fill="#ff3232"/>
<rect x="862" y="488" width="1" height="2" fill="#ff3232"/>
<rect x="861" y="490" width="3" height="1" fill="#ff3232"/>
<rect x="861" y="498" width="3" height="1" fill="#ff3232"/>
<rect x="861" y="491" width="1" height="7" fill="#ff3232"/>
<rect x="863" y="491" width="1" height="7" fill="#ff3232"/>
<rect x="867" y="489" width="1" height="7" fill="#54ffff"/>
<rect x="866" y="492" width="3" height="2" fill="#54ffff"/>
<rect x="872" y="487" width="1" height="1" fill="#ff3232"/>
<rect x="872" y="495" width="1" height="3" fill="#ff3232"/>
<rect x="871" y="488" width="3" height="1" fill="#ff3232"/>
<rect x="871" y="494" width="3" height="1" fill="#ff3232"/>
<rect x="871" y="489" width="1" height="5" fill="#ff3232"/>
<rect x="873" y="489" width="1" height="5" fill="#ff3232"/>
<rect x="877" y="486" width="1" height="6" fill="#54ffff"/>
<rect x="876" y="489" width="3" height="1" fill="#54ffff"/>
<rect x="882" y="490" width="1" height="1" fill="#ff3232"/>
<rect x="881" y="480" width="3" height="1" fill="#ff3232"/>
<rect x="881" y="489" width="3" height="1" fill="#ff3232"/>
<rect x="881" y="481" width="1" height="8" fill="#ff3232"/>
<rect x="883" y="481" width="1" height="8" fill="#ff3232"/>
<rect x="887" y="461" width="1" height="22" fill="#54ffff"/>
<rect x="886" y="479" width="3" height="3" fill="#54ffff"/>
<rect x="891" y="471" width="1" height="2" fill="#ff3232"/>
<rect x="891" y="483" width="1" height="2" fill="#ff3232"/>
<rect x="890" y="473" width="3" height="1" fill="#ff3232"/>
<rect x="890" y="482" width="3" height="1" fill="#ff3232"/>
<rect x="890" y="474" width="1" height="8" fill="#ff3232"/>
<rect x="892" y="474" width="1" height="8" fill="#ff3232"/>
<rect x="896" y="458" width="1" height="13" fill="#ff3232"/>
<rect x="896" y="477" width="1" height="1" fill="#ff3232"/>
<rect x="895" y="471" width="3" height="1" fill="#ff3232"/>
<rect x="895" y="476" width="3" height="1" fill="#ff3232"/>
<rect x="895" y="472" width="1" height="4" fill="#ff3232"/>
<rect x="897" y="472" width="1" height="4" fill="#ff3232"/>
<rect x="900" y="458" width="3" height="1" fill="#ff3232"/>
<rect x="900" y="472" width="3" height="1" fill="#ff3232"/>
<rect x="900" y="459" width="1" height="13" fill="#ff3232"/>
<rect x="902" y="459" width="1" height="13" fill="#ff3232"/>
<rect x="906" y="443" width="1" height="26" fill="#54ffff"/>
<rect x="905" y="447" width="3" height="19" fill="#54ffff"/>
<rect x="911" y="455" width="1" height="1" fill="#ff3232"/>
<rect x="910" y="456" width="3" height="1" fill="#ff3232"/>
<rect x="910" y="465" width="3" height="1" fill="#ff3232"/>
<rect x="910" y="457" width="1" height="8" fill="#ff3232"/>
<rect x="912" y="457" width="1" height="8" fill="#ff3232"/>
<rect x="916" y="454" width="1" height="26" fill="#54ffff"/>
<rect x="915" y="460" width="3" height="14" fill="#54ffff"/>
<rect x="921" y="462" width="1" height="7" fill="#ff3232"/>
<rect x="921" y="472" width="1" height="3" fill="#ff3232"/>
<rect x="920" y="469" width="3" height="1" fill="#ff3232"/>
<rect x="920" y="471" width="3" height="1" fill="#ff3232"/>
<rect x="920" y="470" width="1" height="1" fill="#ff3232"/>
<rect x="922" y="470" width="1" height="1" fill="#ff3232"/>
<rect x="926" y="470" width="1" height="24" fill="#54ffff"/>
<rect x="925" y="472" width="3" height="16" fill="#54ffff"/>
<rect x="931" y="487" width="1" height="3" fill="#ff3232"/>
<rect x="930" y="480" width="3" height="1" fill="#ff3232"/>
<rect x="930" y="486" width="3" height="1" fill="#ff3232"/>
<rect x="930" y="481" width="1" height="5" fill="#ff3232"/>
<rect x="932" y="481" width="1" height="5" fill="#ff3232"/>
<rect x="936" y="469" width="1" height="1" fill="#ff3232"/>
<rect x="936" y="480" width="1" height="1" fill="#ff3232"/>
<rect x="935" y="470" width="3" height="1" fill="#ff3232"/>
<rect x="935" y="479" width="3" height="1" fill="#ff3232"/>
<rect x="935" y="471" width="1" height="8" fill="#ff3232"/>
<rect x="937" y="471" width="1" height="8" fill="#ff3232"/>
<rect x="941" y="470" width="1" height="10" fill="#54ffff"/>
<rect x="940" y="472" width="3" height="5" fill="#54ffff"/>
<rect x="946" y="473" width="1" height="8" fill="#ff3232"/>
<rect x="945" y="479" width="1" height="1" fill="#ff3232"/>
<rect x="950" y="468" width="1" height="1" fill="#ff3232"/>
<rect x="950" y="474" width="1" height="6" fill="#ff3232"/>
<rect x="949" y="469" width="3" height="1" fill="#ff3232"/>
<rect x="949" y="473" width="3" height="1" fill="#ff3232"/>
<rect x="949" y="470" width="1" height="3" fill="#ff3232"/>
<rect x="951" y="470" width="1" height="3" fill="#ff3232"/>
<rect x="955" y="466" width="1" height="6" fill="#ff3232"/>
<rect x="954" y="468" width="3" height="2" fill="#ff3232"/>
<rect x="960" y="464" width="1" height="11" fill="#54ffff"/>
<rect x="959" y="466" width="3" height="7" fill="#54ffff"/>
<rect x="965" y="466" width="1" height="4" fill="#ff3232"/>
<rect x="965" y="474" width="1" height="3" fill="#ff3232"/>
<rect x="964" y="470" width="3" height="1" fill="#ff3232"/>
<rect x="964" y="473" width="3" height="1" fill="#ff3232"/>
<rect x="964" y="471" width="1" height="2" fill="#ff3232"/>
<rect x="966" y="471" width="1" height="2" fill="#ff3232"/>
<rect x="970" y="457" width="1" height="1" fill="#ff3232"/>
<rect x="970" y="468" width="1" height="4" fill="#ff3232"/>
<rect x="969" y="458" width="3" height="1" fill="#ff3232"/>
<rect x="969" y="467" width="3" height="1" fill="#ff3232"/>
<rect x="969" y="459" width="1" height="8" fill="#ff3232"/>
<rect x="971" y="459" width="1" height="8" fill="#ff3232"/>
<rect x="975" y="446" width="1" height="19" fill="#54ffff"/>
<rect x="974" y="458" width="3" height="5" fill="#54ffff"/>
<rect x="980" y="451" width="1" height="13" fill="#54ffff"/>
<rect x="979" y="458" width="3" height="3" fill="#54ffff"/>
<rect x="985" y="458" width="1" height="9" fill="#54ffff"/>
<rect x="984" y="460" width="3" height="1" fill="#54ffff"/>
<rect x="990" y="451" width="1" height="6" fill="#ff3232"/>
<rect x="989" y="435" width="3" height="1" fill="#ff3232"/>
<rect x="989" y="450" width="3" height="1" fill="#ff3232"/>
<rect x="989" y="436" width="1" height="14" fill="#ff3232"/>
<rect x="991" y="436" width="1" height="14" fill="#ff3232"/>
<rect x="995" y="405" width="1" height="16" fill="#ff3232"/>
<rect x="995" y="441" width="1" height="4" fill="#ff3232"/>
<rect x="994" y="421" width="3" height="1" fill="#ff3232"/>
<rect x="994" y="440" width="3" height="1" fill="#ff3232"/>
<rect x="994" y="422" width="1" height="18" fill="#ff3232"/>
<rect x="996" y="422" width="1" height="18" fill="#ff3232"/>
<rect x="1000" y="424" width="1" height="11" fill="#54ffff"/>
<rect x="999" y="424" width="3" height="9" fill="#54ffff"/>
<rect x="1005" y="403" width="1" height="8" fill="#ff3232"/>
<rect x="1004" y="411" width="3" height="1" fill="#ff3232"/>
<rect x="1004" y="430" width="3" height="1" fill="#ff3232"/>
<rect x="1004" y="412" width="1" height="18" fill="#ff3232"/>
<rect x="1006" y="412" width="1" height="18" fill="#ff3232"/>
<rect x="1010" y="407" width="1" height="7" fill="#ff3232"/>
<rect x="1009" y="414" width="3" height="1" fill="#ff3232"/>
<rect x="1009" y="422" width="3" height="1" fill="#ff3232"/>
<rect x="1009" y="415" width="1" height="7" fill="#ff3232"/>
<rect x="1011" y="415" width="1" height="7" fill="#ff3232"/>
<rect x="1014" y="413" width="1" height="11" fill="#54ffff"/>
<rect x="1013" y="414" width="3" height="7" fill="#54ffff"/>
<rect x="1018" y="390" width="3" height="1" fill="#ff3232"/>
<rect x="1018" y="414" width="3" height="1" fill="#ff3232"/>
<rect x="1018" y="391" width="1" height="23" fill="#ff3232"/>
<rect x="1020" y="391" width="1" height="23" fill="#ff3232"/>
<rect x="1024" y="379" width="1" height="2" fill="#ff3232"/>
<rect x="1024" y="400" width="1" height="3" fill="#ff3232"/>
<rect x="1023" y="381" width="3" height="1" fill="#ff3232"/>
<rect x="1023" y="399" width="3" height="1" fill="#ff3232"/>
<rect x="1023" y="382" width="1" height="17" fill="#ff3232"/>
<rect x="1025" y="382" width="1" height="17" fill="#ff3232"/>
<rect x="1029" y="375" width="1" height="5" fill="#ff3232"/>
<rect x="1029" y="403" width="1" height="2" fill="#ff3232"/>
<rect x="1028" y="380" width="3" height="1" fill="#ff3232"/>
<rect x="1028" y="402" width="3" height="1" fill="#ff3232"/>
<rect x="1028" y="381" width="1" height="21" fill="#ff3232"/>
<rect x="1030" y="381" width="1" height="21" fill="#ff3232"/>
<rect x="1034" y="376" width="1" height="40" fill="#54ffff"/>
<rect x="1033" y="383" width="3" height="33" fill="#54ffff"/>
<rect x="1039" y="396" width="1" height="3" fill="#ff3232"/>
<rect x="1039" y="416" width="1" height="9" fill="#ff3232"/>
<rect x="1038" y="399" width="3" height="1" fill="#ff3232"/>
<rect x="1038" y="415" width="3" height="1" fill="#ff3232"/>
<rect x="1038" y="400" width="1" height="15" fill="#ff3232"/>
<rect x="1040" y="400" width="1" height="15" fill="#ff3232"/>
<rect x="1044" y="368" width="1" height="17" fill="#ff3232"/>
<rect x="1043" y="385" width="3" height="1" fill="#ff3232"/>
<rect x="1043" y="404" width="3" height="1" fill="#ff3232"/>
<rect x="1043" y="386" width="1" height="18" fill="#ff3232"/>
<rect x="1045" y="386" width="1" height="18" fill="#ff3232"/>
<rect x="1049" y="368" width="1" height="22" fill="#54ffff"/>
<rect x="1048" y="385" width="3" height="3" fill="#54ffff"/>
<rect x="1054" y="381" width="1" height="16" fill="#54ffff"/>
<rect x="1053" y="381" width="3" height="16" fill="#54ffff"/>
<rect x="1059" y="385" width="1" height="15" fill="#54ffff"/>
<rect x="1058" y="396" width="1" height="1" fill="#54ffff"/>
<rect x="1064" y="380" width="1" height="7" fill="#ff3232"/>
<rect x="1064" y="402" width="1" height="2" fill="#ff3232"/>
<rect x="1063" y="387" width="3" height="1" fill="#ff3232"/>
<rect x="1063" y="401" width="3" height="1" fill="#ff3232"/>
<rect x="1063" y="388" width="1" height="13" fill="#ff3232"/>
<rect x="1065" y="388" width="1" height="13" fill="#ff3232"/>
<rect x="1069" y="388" width="1" height="18" fill="#54ffff"/>
<rect x="1068" y="390" width="3" height="14" fill="#54ffff"/>
<rect x="1073" y="393" width="1" height="5" fill="#ff3232"/>
<rect x="1072" y="398" width="3" height="1" fill="#ff3232"/>
<rect x="1072" y="403" width="3" height="1" fill="#ff3232"/>
<rect x="1072" y="399" width="1" height="4" fill="#ff3232"/>
<rect x="1074" y="399" width="1" height="4" fill="#ff3232"/>
<rect x="1077" y="368" width="3" height="1" fill="#ff3232"/>
<rect x="1077" y="393" width="3" height="1" fill="#ff3232"/>
<rect x="1077" y="369" width="1" height="24" fill="#ff3232"/>
<rect x="1079" y="369" width="1" height="24" fill="#ff3232"/>
<rect x="1083" y="359" width="1" height="9" fill="#ff3232"/>
<rect x="1082" y="368" width="3" height="1" fill="#ff3232"/>
<rect x="1082" y="376" width="3" height="1" fill="#ff3232"/>
<rect x="1082" y="369" width="1" height="7" fill="#ff3232"/>
<rect x="1084" y="369" width="1" height="7" fill="#ff3232"/>
<rect x="1088" y="371" width="1" height="21" fill="#54ffff"/>
<rect x="1087" y="376" width="3" height="1" fill="#54ffff"/>
<rect x="1093" y="376" width="1" height="18" fill="#54ffff"/>
<rect x="1092" y="379" width="3" height="10" fill="#54ffff"/>
<rect x="1098" y="386" width="1" height="25" fill="#54ffff"/>
<rect x="1097" y="389" width="3" height="13" fill="#54ffff"/>
<rect x="1103" y="406" width="1" height="17" fill="#54ffff"/>
<rect x="1102" y="406" width="3" height="10" fill="#54ffff"/>
<rect x="1108" y="413" width="1" height="17" fill="#54ffff"/>
<rect x="1107" y="415" width="3" height="12" fill="#54ffff"/>
<rect x="1113" y="427" width="1" height="1" fill="#ff3232"/>
<rect x="1112" y="428" width="3" height="1" fill="#ff3232"/>
<rect x="1112" y="435" width="3" height="1" fill="#ff3232"/>
<rect x="1112" y="429" width="1" height="6" fill="#ff3232"/>
<rect x="1114" y="429" width="1" height="6" fill="#ff3232"/>
<rect x="1117" y="397" width="3" height="1" fill="#ff3232"/>
<rect x="1117" y="426" width="3" height="1" fill="#ff3232"/>
<rect x="1117" y="398" width="1" height="28" fill="#ff3232"/>
<rect x="1119" y="398" width="1" height="28" fill="#ff3232"/>
<rect x="1123" y="384" width="1" height="12" fill="#54ffff"/>
<rect x="1122" y="390" width="3" height="2" fill="#54ffff"/>
<rect x="1128" y="389" width="1" height="23" fill="#54ffff"/>
<rect x="1127" y="392" width="3" height="7" fill="#54ffff"/>
<rect x="1133" y="392" width="1" height="12" fill="#54ffff"/>
<rect x="1132" y="400" width="1" height="1" fill="#54ffff"/>
<rect x="1137" y="399" width="1" height="17" fill="#54ffff"/>
<rect x="1136" y="407" width="3" height="2" fill="#54ffff"/>
<rect x="1142" y="401" width="1" height="14" fill="#54ffff"/>
<rect x="1141" y="411" width="3" height="3" fill="#54ffff"/>
<rect x="1147" y="412" width="1" height="11" fill="#54ffff"/>
<rect x="1146" y="415" width="3" height="7" fill="#54ffff"/>
<rect x="1152" y="419" width="1" height="9" fill="#54ffff"/>
<rect x="1151" y="421" width="3" height="6" fill="#54ffff"/>
<rect x="1157" y="412" width="1" height="7" fill="#ff3232"/>
<rect x="1157" y="425" width="1" height="2" fill="#ff3232"/>
<rect x="1156" y="419" width="3" height="1" fill="#ff3232"/>
<rect x="1156" y="424" width="3" height="1" fill="#ff3232"/>
<rect x="1156" y="420" width="1" height="4" fill="#ff3232"/>
<rect x="1158" y="420" width="1" height="4" fill="#ff3232"/>
<rect x="1162" y="417" width="1" height="9" fill="#54ffff"/>
<rect x="1161" y="422" width="3" height="4" fill="#54ffff"/>
<rect x="1167" y="418" width="1" height="10" fill="#54ffff"/>
<rect x="1166" y="424" width="1" height="1" fill="#54ffff"/>
<rect x="1172" y="421" width="1" height="5" fill="#ff3232"/>
<rect x="1172" y="429" width="1" height="3" fill="#ff3232"/>
<rect x="1171" y="426" width="3" height="1" fill="#ff3232"/>
<rect x="1171" y="428" width="3" height="1" fill="#ff3232"/>
<rect x="1171" y="427" width="1" height="1" fill="#ff3232"/>
<rect x="1173" y="427" width="1" height="1" fill="#ff3232"/>
<rect x="1177" y="418" width="1" height="10" fill="#ff3232"/>
<rect x="1176" y="424" width="3" height="2" fill="#ff3232"/>
<rect x="1182" y="413" width="1" height="11" fill="#54ffff"/>
<rect x="1181" y="421" width="3" height="3" fill="#54ffff"/>
<rect x="1187" y="417" width="1" height="14" fill="#54ffff"/>
<rect x="1186" y="425" width="1" height="1" fill="#54ffff"/>
<rect x="1192" y="418" width="1" height="9" fill="#54ffff"/>
<rect x="1191" y="418" width="3" height="9" fill="#54ffff"/>
<rect x="1196" y="416" width="1" height="3" fill="#ff3232"/>
<rect x="1195" y="419" width="3" height="1" fill="#ff3232"/>
<rect x="1195" y="428" width="3" height="1" fill="#ff3232"/>
<rect x="1195" y="420" width="1" height="8" fill="#ff3232"/>
<rect x="1197" y="420" width="1" height="8" fill="#ff3232"/>
<rect x="1201" y="418" width="1" height="9" fill="#54ffff"/>
<rect x="1200" y="419" width="3" height="2" fill="#54ffff"/>
<rect x="1206" y="417" width="1" height="6" fill="#ff3232"/>
<rect x="1205" y="421" width="1" height="1" fill="#ff3232"/>
<rect x="1211" y="412" width="1" height="4" fill="#ff3232"/>
<rect x="1210" y="416" width="3" height="1" fill="#ff3232"/>
<rect x="1210" y="420" width="3" height="1" fill="#ff3232"/>
<rect x="1210" y="417" width="1" height="3" fill="#ff3232"/>
<rect x="1212" y="417" width="1" height="3" fill="#ff3232"/>
<rect x="1216" y="388" width="1" height="10" fill="#ff3232"/>
<rect x="1215" y="398" width="3" height="1" fill="#ff3232"/>
<rect x="1215" y="419" width="3" height="1" fill="#ff3232"/>
<rect x="1215" y="399" width="1" height="20" fill="#ff3232"/>
<rect x="1217" y="399" width="1" height="20" fill="#ff3232"/>
<rect x="1221" y="396" width="1" height="12" fill="#ff3232"/>
<rect x="1220" y="399" width="1" height="1" fill="#ff3232"/>
<rect x="1226" y="389" width="1" height="3" fill="#ff3232"/>
<rect x="1226" y="400" width="1" height="4" fill="#ff3232"/>
<rect x="1225" y="392" width="3" height="1" fill="#ff3232"/>
<rect x="1225" y="399" width="3" height="1" fill="#ff3232"/>
<rect x="1225" y="393" width="1" height="6" fill="#ff3232"/>
<rect x="1227" y="393" width="1" height="6" fill="#ff3232"/>
<rect x="1231" y="385" width="1" height="13" fill="#54ffff"/>
<rect x="1230" y="392" width="3" height="4" fill="#54ffff"/>
<rect x="1236" y="397" width="1" height="7" fill="#ff3232"/>
<rect x="1235" y="394" width="3" height="1" fill="#ff3232"/>
<rect x="1235" y="396" width="3" height="1" fill="#ff3232"/>
<rect x="1235" y="395" width="1" height="1" fill="#ff3232"/>
<rect x="1237" y="395" width="1" height="1" fill="#ff3232"/>
<rect x="1241" y="393" width="1" height="11" fill="#54ffff"/>
<rect x="1240" y="393" width="3" height="9" fill="#54ffff"/>
<rect x="1246" y="398" width="1" height="2" fill="#ff3232"/>
<rect x="1246" y="403" width="1" height="9" fill="#ff3232"/>
<rect x="1245" y="400" width="3" height="1" fill="#ff3232"/>
<rect x="1245" y="402" width="3" height="1" fill="#ff3232"/>
<rect x="1245" y="401" width="1" height="1" fill="#ff3232"/>
<rect x="1247" y="401" width="1" height="1" fill="#ff3232"/>
<rect x="1251" y="394" width="1" height="6" fill="#ff3232"/>
<rect x="1251" y="404" width="1" height="3" fill="#ff3232"/>
<rect x="1250" y="400" width="3" height="1" fill="#ff3232"/>
<rect x="1250" y="403" width="3" height="1" fill="#ff3232"/>
<rect x="1250" y="401" width="1" height="2" fill="#ff3232"/>
<rect x="1252" y="401" width="1" height="2" fill="#ff3232"/>
<rect x="1256" y="396" width="1" height="15" fill="#54ffff"/>
<rect x="1255" y="401" width="3" height="4" fill="#54ffff"/>
<rect x="1260" y="397" width="1" height="18" fill="#54ffff"/>
<rect x="1259" y="403" width="3" height="2" fill="#54ffff"/>
<rect x="1265" y="381" width="1" height="11" fill="#ff3232"/>
<rect x="1264" y="392" width="3" height="1" fill="#ff3232"/>
<rect x="1264" y="407" width="3" height="1" fill="#ff3232"/>
<rect x="1264" y="393" width="1" height="14" fill="#ff3232"/>
<rect x="1266" y="393" width="1" height="14" fill="#ff3232"/>
<rect x="1270" y="387" width="1" height="12" fill="#54ffff"/>
<rect x="1269" y="387" width="3" height="6" fill="#54ffff"/>
<rect x="1275" y="371" width="1" height="8" fill="#ff3232"/>
<rect x="1274" y="379" width="3" height="1" fill="#ff3232"/>
<rect x="1274" y="393" width="3" height="1" fill="#ff3232"/>
<rect x="1274" y="380" width="1" height="13" fill="#ff3232"/>
<rect x="1276" y="380" width="1" height="13" fill="#ff3232"/>
<rect x="1280" y="370" width="1" height="12" fill="#54ffff"/>
<rect x="1279" y="376" width="3" height="4" fill="#54ffff"/>
<rect x="1285" y="368" width="1" height="4" fill="#ff3232"/>
<rect x="1285" y="379" width="1" height="2" fill="#ff3232"/>
<rect x="1284" y="372" width="3" height="1" fill="#ff3232"/>
<rect x="1284" y="378" width="3" height="1" fill="#ff3232"/>
<rect x="1284" y="373" width="1" height="5" fill="#ff3232"/>
<rect x="1286" y="373" width="1" height="5" fill="#ff3232"/>
<rect x="1290" y="363" width="1" height="4" fill="#ff3232"/>
<rect x="1290" y="374" width="1" height="1" fill="#ff3232"/>
<rect x="1289" y="367" width="3" height="1" fill="#ff3232"/>
<rect x="1289" y="373" width="3" height="1" fill="#ff3232"/>
<rect x="1289" y="368" width="1" height="5" fill="#ff3232"/>
<rect x="1291" y="368" width="1" height="5" fill="#ff3232"/>
<rect x="1295" y="367" width="1" height="16" fill="#54ffff"/>
<rect x="1294" y="370" width="3" height="9" fill="#54ffff"/>
<rect x="1300" y="377" width="1" height="8" fill="#54ffff"/>
<rect x="1299" y="379" width="3" height="3" fill="#54ffff"/>
<rect x="1305" y="375" width="1" height="12" fill="#54ffff"/>
<rect x="1304" y="383" width="3" height="3" fill="#54ffff"/>
<rect x="1310" y="376" width="1" height="14" fill="#ff3232"/>
<rect x="1309" y="382" width="1" height="1" fill="#ff3232"/>
<rect x="1314" y="347" width="3" height="1" fill="#ff3232"/>
<rect x="1314" y="377" width="3" height="1" fill="#ff3232"/>
<rect x="1314" y="348" width="1" height="29" fill="#ff3232"/>
<rect x="1316" y="348" width="1" height="29" fill="#ff3232"/>
<rect x="1318" y="307" width="3" height="1" fill="#ff3232"/>
<rect x="1318" y="327" width="3" height="1" fill="#ff3232"/>
<rect x="1318" y="308" width="1" height="19" fill="#ff3232"/>
<rect x="1320" y="308" width="1" height="19" fill="#ff3232"/>
<rect x="1324" y="288" width="1" height="10" fill="#ff3232"/>
<rect x="1324" y="306" width="1" height="14" fill="#ff3232"/>
<rect x="1323" y="298" width="3" height="1" fill="#ff3232"/>
<rect x="1323" y="305" width="3" height="1" fill="#ff3232"/>
<rect x="1323" y="299" width="1" height="6" fill="#ff3232"/>
<rect x="1325" y="299" width="1" height="6" fill="#ff3232"/>
<rect x="1329" y="264" width="1" height="15" fill="#ff3232"/>
<rect x="1328" y="279" width="3" height="1" fill="#ff3232"/>
<rect x="1328" y="310" width="3" height="1" fill="#ff3232"/>
<rect x="1328" y="280" width="1" height="30" fill="#ff3232"/>
<rect x="1330" y="280" width="1" height="30" fill="#ff3232"/>
<rect x="1334" y="248" width="1" height="15" fill="#ff3232"/>
<rect x="1333" y="263" width="3" height="1" fill="#ff3232"/>
<rect x="1333" y="281" width="3" height="1" fill="#ff3232"/>
<rect x="1333" y="264" width="1" height="17" fill="#ff3232"/>
<rect x="1335" y="264" width="1" height="17" fill="#ff3232"/>
<rect x="1339" y="246" width="1" height="25" fill="#54ffff"/>
<rect x="1338" y="255" width="3" height="5" fill="#54ffff"/>
<rect x="1344" y="233" width="1" height="20" fill="#ff3232"/>
<rect x="1344" y="266" width="1" height="15" fill="#ff3232"/>
<rect x="1343" y="253" width="3" height="1" fill="#ff3232"/>
<rect x="1343" y="265" width="3" height="1" fill="#ff3232"/>
<rect x="1343" y="254" width="1" height="11" fill="#ff3232"/>
<rect x="1345" y="254" width="1" height="11" fill="#ff3232"/>
<rect x="1349" y="221" width="1" height="9" fill="#ff3232"/>
<rect x="1348" y="230" width="3" height="1" fill="#ff3232"/>
<rect x="1348" y="251" width="3" height="1" fill="#ff3232"/>
<rect x="1348" y="231" width="1" height="20" fill="#ff3232"/>
<rect x="1350" y="231" width="1" height="20" fill="#ff3232"/>
<rect x="1354" y="212" width="1" height="37" fill="#54ffff"/>
<rect x="1353" y="215" width="3" height="11" fill="#54ffff"/>
<rect x="1359" y="220" width="1" height="7" fill="#ff3232"/>
<rect x="1358" y="174" width="3" height="1" fill="#ff3232"/>
<rect x="1358" y="219" width="3" height="1" fill="#ff3232"/>
<rect x="1358" y="175" width="1" height="44" fill="#ff3232"/>
<rect x="1360" y="175" width="1" height="44" fill="#ff3232"/>
<rect x="1364" y="158" width="1" height="9" fill="#ff3232"/>
<rect x="1363" y="118" width="3" height="1" fill="#ff3232"/>
<rect x="1363" y="157" width="3" height="1" fill="#ff3232"/>
<rect x="1363" y="119" width="1" height="38" fill="#ff3232"/>
<rect x="1365" y="119" width="1" height="38" fill="#ff3232"/>
<rect x="1369" y="65" width="1" height="9" fill="#ff3232"/>
<rect x="1368" y="74" width="3" height="1" fill="#ff3232"/>
<rect x="1368" y="145" width="3" height="1" fill="#ff3232"/>
<rect x="1368" y="75" width="1" height="70" fill="#ff3232"/>
<rect x="1370" y="75" width="1" height="70" fill="#ff3232"/>
<rect x="1374" y="37" width="1" height="12" fill="#ff3232"/>
<rect x="1374" y="90" width="1" height="23" fill="#ff3232"/>
<rect x="1373" y="49" width="3" height="1" fill="#ff3232"/>
<rect x="1373" y="89" width="3" height="1" fill="#ff3232"/>
<rect x="1373" y="50" width="1" height="39" fill="#ff3232"/>
<rect x="1375" y="50" width="1" height="39" fill="#ff3232"/>
<rect x="1379" y="38" width="1" height="44" fill="#54ffff"/>
<rect x="1378" y="51" width="3" height="16" fill="#54ffff"/>
<rect x="1383" y="22" width="1" height="7" fill="#ff3232"/>
<rect x="1383" y="68" width="1" height="4" fill="#ff3232"/>
<rect x="1382" y="29" width="3" height="1" fill="#ff3232"/>
<rect x="1382" y="67" width="3" height="1" fill="#ff3232"/>
<rect x="1382" y="30" width="1" height="37" fill="#ff3232"/>
<rect x="1384" y="30" width="1" height="37" fill="#ff3232"/>
<rect x="1388" y="21" width="1" height="74" fill="#54ffff"/>
<rect x="1387" y="31" width="3" height="61" fill="#54ffff"/>
<rect x="1392" y="27" width="3" height="1" fill="#ff3232"/>
<rect x="1392" y="100" width="3" height="1" fill="#ff3232"/>
<rect x="1392" y="28" width="1" height="72" fill="#ff3232"/>
<rect x="1394" y="28" width="1" height="72" fill="#ff3232"/>
<rect x="737" y="18" width="3" height="3" fill="#ff00ff"/>
<rect x="742" y="18" width="3" height="3" fill="#ff00ff"/>
<rect x="776" y="18" width="3" height="3" fill="#ff00ff"/>
<rect x="781" y="18" width="3" height="3" fill="#ff00ff"/>
<rect x="855" y="18" width="3" height="3" fill="#ff00ff"/>
<rect x="880" y="18" width="3" height="3" fill="#ff00ff"/>
<rect x="904" y="18" width="3" height="3" fill="#ff00ff"/>
<rect x="914" y="18" width="3" height="3" fill="#ff00ff"/>
<rect x="948" y="18" width="3" height="3" fill="#ff00ff"/>
<rect x="978" y="18" width="3" height="3" fill="#ff00ff"/>
<rect x="983" y="18" width="3" height="3" fill="#ff00ff"/>
<rect x="988" y="18" width="3" height="3" fill="#ff00ff"/>
<rect x="1003" y="18" width="3" height="3" fill="#ff00ff"/>
<rect x="1008" y="18" width="3" height="3" fill="#ff00ff"/>
<rect x="1022" y="18" width="3" height="3" fill="#ff00ff"/>
<rect x="1086" y="18" width="3" height="3" fill="#ff00ff"/>
<rect x="1155" y="18" width="3" height="3" fill="#ff00ff"/>
<rect x="1204" y="18" width="3" height="3" fill="#ff00ff"/>
<rect x="1239" y="18" width="3" height="3" fill="#ff00ff"/>
<rect x="1254" y="18" width="3" height="3" fill="#ff00ff"/>
<rect x="1263" y="18" width="3" height="3" fill="#ff00ff"/>
<rect x="1283" y="18" width="3" height="3" fill="#ff00ff"/>
<rect x="1313" y="18" width="3" height="3" fill="#ff00ff"/>
<rect x="1317" y="18" width="3" height="3" fill="#ff00ff"/>
<rect x="1322" y="18" width="3" height="3" fill="#ff00ff"/>
<rect x="1327" y="18" width="3" height="3" fill="#ff00ff"/>
<rect x="1332" y="18" width="3" height="3" fill="#ff00ff"/>
<rect x="1347" y="18" width="3" height="3" fill="#ff00ff"/>
<rect x="1352" y="18" width="3" height="3" fill="#ff00ff"/>
<rect x="1362" y="18" width="3" height="3" fill="#ff00ff"/>
<rect x="1367" y="18" width="3" height="3" fill="#ff00ff"/>
<rect x="1372" y="18" width="3" height="3" fill="#ff00ff"/>
<rect x="1377" y="18" width="3" height="3" fill="#ff00ff"/>
<rect x="1381" y="18" width="3" height="3" fill="#ff00ff"/>
<path d="M14 541h2v1h-2zM52 541h5v1h-5zM170 541h5v1h-5zM225 541h4v1h-4zM341 541h2v1h-2zM371 541h2v1h-2zM382 541h4v1h-4zM552 541h2v1h-2zM673 541h4v1h-4zM1307 379h4v1h-4zM97 551h4v1h-4zM115 551h2v1h-2zM579 551h19v1h-19zM632 551h15v1h-15zM1090 381h2v1h-2zM1095 381h3v1h-3zM467 523h2v1h-2zM486 523h4v1h-4zM505 523h8v1h-8zM708 523h3v1h-3zM455 530h2v1h-2zM525 530h2v1h-2zM695 530h2v1h-2zM721 520h5v1h-5zM751 520h5v1h-5zM1292 376h2v1h-2zM1296 376h2v1h-2zM829 502h2v1h-2zM20 538h2v1h-2zM37 538h9v1h-9zM201 538h4v1h-4zM210 538h9v1h-9zM348 538h3v1h-3zM362 538h4v1h-4zM390 538h2v1h-2zM544 538h4v1h-4zM683 538h2v1h-2zM6 545h2v1h-2zM244 545h5v1h-5zM264 545h5v1h-5zM289 545h4v1h-4zM330 545h3v1h-3zM560 545h4v1h-4zM665 545h2v1h-2zM1227 405h2v1h-2zM2 547h2v1h-2zM158 547h2v1h-2zM297 547h2v1h-2zM326 547h2v1h-2zM568 547h2v1h-2zM657 547h5v1h-5zM843 497h2v1h-2zM848 497h2v1h-2zM854 497h5v1h-5zM4 546h2v1h-2zM160 546h2v1h-2zM249 546h15v1h-15zM293 546h4v1h-4zM328 546h2v1h-2zM564 546h4v1h-4zM662 546h3v1h-3zM66 549h2v1h-2zM105 549h2v1h-2zM110 549h2v1h-2zM302 549h2v1h-2zM317 549h2v1h-2zM573 549h2v1h-2zM603 549h10v1h-10zM618 549h5v1h-5zM651 549h2v1h-2zM1126 410h2v1h-2zM779 514h2v1h-2zM1042 392h3v1h-3zM1060 392h2v1h-2zM1066 392h2v1h-2zM10 543h2v1h-2zM165 543h2v1h-2zM234 543h5v1h-5zM274 543h13v1h-13zM337 543h2v1h-2zM556 543h2v1h-2zM669 543h2v1h-2zM942 478h2v1h-2zM946 478h2v1h-2zM12 542h2v1h-2zM57 542h3v1h-3zM167 542h3v1h-3zM229 542h5v1h-5zM339 542h2v1h-2zM373 542h9v1h-9zM554 542h2v1h-2zM671 542h2v1h-2zM457 529h2v1h-2zM523 529h2v1h-2zM697 529h2v1h-2zM1169 425h5v1h-5zM1179 425h5v1h-5zM1188 425h2v1h-2zM1035 396h2v1h-2zM1051 396h2v1h-2zM1054 396h2v1h-2zM398 534h8v1h-8zM532 534h2v1h-2zM16 540h2v1h-2zM48 540h4v1h-4zM175 540h5v1h-5zM185 540h14v1h-14zM223 540h2v1h-2zM343 540h3v1h-3zM368 540h3v1h-3zM386 540h2v1h-2zM550 540h2v1h-2zM677 540h4v1h-4zM766 517h8v1h-8zM1254 401h3v1h-3zM1265 401h2v1h-2zM74 554h8v1h-8zM91 554h2v1h-2zM120 554h2v1h-2zM149 554h2v1h-2zM0 548h2v1h-2zM107 548h3v1h-3zM299 548h3v1h-3zM319 548h7v1h-7zM570 548h3v1h-3zM613 548h5v1h-5zM653 548h4v1h-4zM146 556h2v1h-2zM428 556h6v1h-6zM465 524h2v1h-2zM490 524h5v1h-5zM500 524h5v1h-5zM513 524h2v1h-2zM706 524h2v1h-2zM1139 403h3v1h-3zM1259 403h3v1h-3zM1252 400h2v1h-2zM1267 400h2v1h-2zM28 535h3v1h-3zM396 535h2v1h-2zM406 535h3v1h-3zM534 535h2v1h-2zM1238 397h9v1h-9zM1271 397h2v1h-2zM1302 378h5v1h-5zM1311 378h2v1h-2zM1114 412h2v1h-2zM1121 412h3v1h-3zM101 550h4v1h-4zM112 550h3v1h-3zM154 550h2v1h-2zM304 550h13v1h-13zM575 550h4v1h-4zM598 550h5v1h-5zM623 550h9v1h-9zM647 550h4v1h-4zM1294 375h2v1h-2zM789 511h2v1h-2zM795 511h15v1h-15zM1040 393h2v1h-2zM1045 393h2v1h-2zM1068 393h2v1h-2zM1074 393h2v1h-2zM1038 394h2v1h-2zM1047 394h2v1h-2zM1070 394h2v1h-2zM463 525h2v1h-2zM495 525h5v1h-5zM515 525h2v1h-2zM704 525h2v1h-2zM822 506h2v1h-2zM1010 423h2v1h-2zM1164 423h2v1h-2zM1206 423h2v1h-2zM818 508h2v1h-2zM453 531h2v1h-2zM527 531h2v1h-2zM128 560h12v1h-12zM957 473h4v1h-4zM1124 411h2v1h-2zM1064 391h2v1h-2zM935 476h3v1h-3zM471 521h13v1h-13zM716 521h5v1h-5zM1249 399h3v1h-3zM938 477h4v1h-4zM22 537h2v1h-2zM33 537h4v1h-4zM351 537h2v1h-2zM357 537h5v1h-5zM392 537h2v1h-2zM410 537h2v1h-2zM539 537h5v1h-5zM685 537h2v1h-2zM1028 398h6v1h-6zM1235 398h3v1h-3zM1247 398h2v1h-2zM903 471h2v1h-2zM926 471h2v1h-2zM963 471h2v1h-2zM1162 422h2v1h-2zM1208 422h2v1h-2zM70 552h2v1h-2zM95 552h2v1h-2zM117 552h2v1h-2zM726 519h5v1h-5zM741 519h10v1h-10zM756 519h5v1h-5zM140 559h2v1h-2zM931 474h2v1h-2zM951 474h2v1h-2zM1083 385h2v1h-2zM82 555h9v1h-9zM880 490h2v1h-2zM840 498h3v1h-3zM850 498h4v1h-4zM24 536h4v1h-4zM31 536h2v1h-2zM353 536h4v1h-4zM394 536h2v1h-2zM536 536h3v1h-3zM687 536h2v1h-2zM1085 384h2v1h-2zM875 492h3v1h-3zM8 544h2v1h-2zM163 544h2v1h-2zM239 544h5v1h-5zM269 544h5v1h-5zM287 544h2v1h-2zM333 544h4v1h-4zM558 544h2v1h-2zM667 544h2v1h-2zM791 510h4v1h-4zM810 510h5v1h-5zM469 522h2v1h-2zM484 522h2v1h-2zM711 522h5v1h-5zM981 464h2v1h-2zM878 491h2v1h-2zM1136 402h3v1h-3zM1257 402h2v1h-2zM1262 402h3v1h-3zM517 526h2v1h-2zM702 526h2v1h-2zM831 501h3v1h-3zM1290 377h2v1h-2zM1298 377h4v1h-4zM1313 377h2v1h-2zM973 466h4v1h-4zM827 503h2v1h-2zM781 513h4v1h-4zM1152 416h2v1h-2zM731 518h10v1h-10zM761 518h5v1h-5zM1166 424h3v1h-3zM1174 424h5v1h-5zM1190 424h16v1h-16zM18 539h2v1h-2zM46 539h2v1h-2zM180 539h5v1h-5zM199 539h2v1h-2zM205 539h5v1h-5zM219 539h4v1h-4zM346 539h2v1h-2zM366 539h2v1h-2zM388 539h2v1h-2zM548 539h2v1h-2zM681 539h2v1h-2zM884 488h2v1h-2zM820 507h2v1h-2zM1133 404h2v1h-2zM529 532h2v1h-2zM1092 380h3v1h-3zM72 553h2v1h-2zM93 553h2v1h-2zM910 465h11v1h-11zM977 465h4v1h-4zM1049 395h2v1h-2zM1056 395h2v1h-2zM785 512h4v1h-4zM969 468h2v1h-2zM983 463h2v1h-2zM776 515h3v1h-3zM971 467h2v1h-2zM868 495h2v1h-2zM933 475h2v1h-2zM691 533h2v1h-2zM144 557h2v1h-2zM944 479h2v1h-2zM845 496h3v1h-3zM859 496h9v1h-9zM901 472h2v1h-2zM928 472h2v1h-2zM954 472h3v1h-3zM961 472h2v1h-2zM815 509h3v1h-3zM519 527h2v1h-2zM700 527h2v1h-2zM1184 426h4v1h-4zM838 499h2v1h-2zM873 493h2v1h-2zM1088 382h2v1h-2zM1157 419h2v1h-2zM1119 413h2v1h-2zM1117 414h2v1h-2zM1217 414h2v1h-2zM1159 420h2v1h-2zM965 470h2v1h-2zM1154 417h2v1h-2zM459 528h2v1h-2zM521 528h2v1h-2zM125 558h2v1h-2zM142 558h2v1h-2zM834 500h4v1h-4zM967 469h2v1h-2zM774 516h2v1h-2zM870 494h3v1h-3zM824 505h2v1h-2zM882 489h2v1h-2zM415 541h1v2h-1zM445 541h1v2h-1zM1288 379h1v1h-1zM69 551h1v1h-1zM153 551h1v1h-1zM423 551h1v1h-1zM438 551h1v1h-1zM1286 381h1v1h-1zM1328 328h1v4h-1zM1377 103h1v8h-1zM989 455h1v1h-1zM1381 76h1v7h-1zM1314 376h1v1h-1zM1021 407h1v2h-1zM1111 407h1v2h-1zM1130 407h1v1h-1zM1144 407h1v1h-1zM1225 407h1v1h-1zM1367 176h1v7h-1zM412 538h1v1h-1zM447 538h1v2h-1zM62 545h1v1h-1zM162 545h1v1h-1zM418 545h1v1h-1zM443 545h1v1h-1zM1361 215h1v6h-1zM1022 405h1v2h-1zM1110 405h1v2h-1zM1132 405h1v1h-1zM1143 405h1v2h-1zM64 547h1v1h-1zM420 547h1v2h-1zM441 547h1v1h-1zM1376 111h1v8h-1zM985 461h1v2h-1zM1375 119h1v8h-1zM1366 183h1v8h-1zM1380 83h1v6h-1zM63 546h1v1h-1zM419 546h1v1h-1zM442 546h1v1h-1zM1315 373h1v3h-1zM156 549h1v1h-1zM421 549h1v1h-1zM440 548h1v2h-1zM1020 409h1v2h-1zM1112 409h1v2h-1zM1147 410h1v1h-1zM1222 410h1v1h-1zM1323 346h1v4h-1zM1076 392h1v1h-1zM1103 391h1v2h-1zM1276 392h1v2h-1zM60 543h1v1h-1zM416 543h1v1h-1zM444 543h1v2h-1zM895 478h1v1h-1zM1008 425h1v2h-1zM1105 395h1v2h-1zM1273 396h1v1h-1zM450 534h1v2h-1zM690 534h1v1h-1zM414 540h1v1h-1zM446 540h1v1h-1zM1025 401h1v2h-1zM1108 401h1v2h-1zM1232 401h1v1h-1zM1344 267h1v3h-1zM426 554h1v1h-1zM435 554h1v1h-1zM1005 430h1v2h-1zM1326 335h1v4h-1zM889 484h1v1h-1zM65 548h1v1h-1zM157 548h1v1h-1zM1128 409h1v1h-1zM1146 409h1v1h-1zM1223 409h1v1h-1zM123 556h1v1h-1zM1370 155h1v7h-1zM1332 307h1v4h-1zM1131 406h1v1h-1zM1226 406h1v1h-1zM1024 403h1v1h-1zM1109 403h1v2h-1zM1135 403h1v1h-1zM1230 403h1v1h-1zM1360 221h1v6h-1zM1026 400h1v1h-1zM1107 399h1v2h-1zM1233 400h1v1h-1zM689 535h1v1h-1zM1369 162h1v7h-1zM1034 397h1v1h-1zM1053 397h1v1h-1zM1106 397h1v2h-1zM1373 134h1v8h-1zM1384 65h1v2h-1zM1321 354h1v4h-1zM1080 388h1v1h-1zM1101 387h1v2h-1zM1280 388h1v1h-1zM1289 378h1v1h-1zM1019 411h1v2h-1zM1148 411h1v2h-1zM1220 412h1v1h-1zM68 550h1v1h-1zM422 550h1v1h-1zM439 550h1v1h-1zM893 480h1v1h-1zM1343 270h1v2h-1zM1059 393h1v1h-1zM1104 393h1v2h-1zM1355 242h1v4h-1zM1058 394h1v1h-1zM1073 394h1v1h-1zM1275 394h1v1h-1zM1004 432h1v1h-1zM1351 252h1v2h-1zM1000 439h1v2h-1zM694 531h1v1h-1zM1374 127h1v7h-1zM1359 227h1v5h-1zM1378 95h1v8h-1zM900 473h1v1h-1zM930 473h1v1h-1zM953 473h1v1h-1zM1364 197h1v6h-1zM1368 169h1v7h-1zM1113 411h1v1h-1zM1221 411h1v1h-1zM996 445h1v2h-1zM1062 391h1v1h-1zM1077 391h1v1h-1zM1277 391h1v1h-1zM1329 323h1v5h-1zM1383 67h1v2h-1zM897 476h1v1h-1zM949 476h1v1h-1zM1027 399h1v1h-1zM1234 399h1v1h-1zM1269 399h1v1h-1zM896 477h1v1h-1zM948 477h1v1h-1zM991 452h1v1h-1zM448 537h1v1h-1zM1270 398h1v1h-1zM1012 422h1v1h-1zM1342 272h1v3h-1zM1354 246h1v2h-1zM152 552h1v1h-1zM424 552h1v1h-1zM437 552h1v1h-1zM127 559h1v1h-1zM899 474h1v1h-1zM1350 254h1v2h-1zM1099 384h1v2h-1zM1282 385h1v1h-1zM122 555h1v1h-1zM148 555h1v1h-1zM427 555h1v1h-1zM434 555h1v1h-1zM999 441h1v2h-1zM994 448h1v1h-1zM1330 315h1v8h-1zM409 536h1v1h-1zM449 536h1v1h-1zM1283 384h1v1h-1zM1358 232h1v4h-1zM61 544h1v1h-1zM417 544h1v1h-1zM1363 203h1v6h-1zM1372 142h1v6h-1zM1349 256h1v2h-1zM1081 387h1v1h-1zM1281 386h1v2h-1zM1337 287h1v4h-1zM1357 236h1v3h-1zM1231 402h1v1h-1zM462 526h1v1h-1zM1362 209h1v6h-1zM909 466h1v1h-1zM921 466h1v1h-1zM1371 148h1v7h-1zM1389 58h1v2h-1zM1017 415h1v2h-1zM1215 416h1v1h-1zM1365 191h1v6h-1zM1009 424h1v1h-1zM413 539h1v1h-1zM1392 54h1v1h-1zM1387 61h1v1h-1zM892 481h1v1h-1zM1318 365h1v3h-1zM1023 404h1v1h-1zM1142 404h1v1h-1zM1229 404h1v1h-1zM1339 280h1v3h-1zM452 532h1v1h-1zM693 532h1v1h-1zM1287 380h1v1h-1zM995 447h1v1h-1zM1382 69h1v7h-1zM119 553h1v1h-1zM151 553h1v1h-1zM425 553h1v1h-1zM436 553h1v1h-1zM1015 418h1v1h-1zM1156 418h1v1h-1zM1213 418h1v1h-1zM1334 298h1v4h-1zM1037 395h1v1h-1zM1072 395h1v1h-1zM1274 395h1v1h-1zM907 468h1v1h-1zM923 468h1v1h-1zM1082 386h1v1h-1zM1100 386h1v1h-1zM1346 262h1v3h-1zM908 467h1v1h-1zM922 467h1v1h-1zM898 475h1v1h-1zM950 475h1v1h-1zM451 533h1v1h-1zM531 533h1v1h-1zM124 557h1v1h-1zM1345 265h1v2h-1zM894 479h1v1h-1zM1320 358h1v4h-1zM1388 60h1v1h-1zM886 487h1v1h-1zM1336 291h1v3h-1zM461 527h1v1h-1zM1331 311h1v4h-1zM1098 382h1v2h-1zM1285 382h1v1h-1zM1335 294h1v4h-1zM988 456h1v2h-1zM1129 408h1v1h-1zM1145 408h1v1h-1zM1224 408h1v1h-1zM1014 419h1v2h-1zM1212 419h1v1h-1zM987 458h1v1h-1zM1018 413h1v2h-1zM1116 413h1v1h-1zM1149 413h1v1h-1zM1219 413h1v1h-1zM1338 283h1v4h-1zM1007 427h1v1h-1zM1150 414h1v1h-1zM1333 302h1v5h-1zM1211 420h1v1h-1zM1079 389h1v1h-1zM1102 389h1v2h-1zM1279 389h1v1h-1zM890 483h1v1h-1zM1341 275h1v3h-1zM1353 248h1v2h-1zM993 449h1v2h-1zM1352 250h1v2h-1zM905 470h1v1h-1zM925 470h1v1h-1zM1348 258h1v2h-1zM992 451h1v1h-1zM1356 239h1v3h-1zM826 504h1v1h-1zM1317 368h1v3h-1zM1063 390h1v1h-1zM1078 390h1v1h-1zM1278 390h1v1h-1zM1016 417h1v1h-1zM1214 417h1v1h-1zM1316 371h1v2h-1zM887 486h1v1h-1zM1325 339h1v3h-1zM1386 62h1v2h-1zM699 528h1v1h-1zM1006 428h1v2h-1zM891 482h1v1h-1zM1002 435h1v2h-1zM1324 342h1v4h-1zM1385 64h1v1h-1zM1013 421h1v1h-1zM1161 421h1v1h-1zM1210 421h1v1h-1zM906 469h1v1h-1zM924 469h1v1h-1zM1001 437h1v2h-1zM997 444h1v1h-1zM1327 332h1v3h-1zM1379 89h1v6h-1zM1322 350h1v4h-1zM1391 55h1v2h-1zM1390 57h1v1h-1zM1003 433h1v2h-1zM990 453h1v2h-1zM1319 362h1v3h-1zM1340 278h1v2h-1zM986 459h1v2h-1zM1347 260h1v2h-1zM1151 415h1v1h-1zM1216 415h1v1h-1zM998 443h1v1h-1zM888 485h1v1h-1zM1087 383h1v1h-1zM1284 383h1v1h-1z" fill="#ffffff"/>
<path d="M43 538h5v1h-5zM54 538h4v1h-4zM391 538h22v1h-22zM559 538h2v1h-2zM694 538h2v1h-2zM555 536h2v1h-2zM698 536h2v1h-2zM33 540h5v1h-5zM60 540h2v1h-2zM198 540h5v1h-5zM231 540h9v1h-9zM358 540h25v1h-25zM417 540h2v1h-2zM563 540h2v1h-2zM690 540h2v1h-2zM498 523h15v1h-15zM729 523h3v1h-3zM1043 404h2v1h-2zM1245 404h2v1h-2zM82 548h4v1h-4zM172 548h2v1h-2zM588 548h5v1h-5zM661 548h7v1h-7zM833 505h5v1h-5zM1051 398h2v1h-2zM1115 398h11v1h-11zM1269 398h4v1h-4zM8 544h4v1h-4zM69 544h3v1h-3zM182 544h2v1h-2zM261 544h32v1h-32zM344 544h3v1h-3zM426 544h2v1h-2zM443 544h11v1h-11zM572 544h2v1h-2zM679 544h4v1h-4zM894 488h2v1h-2zM926 472h6v1h-6zM952 472h2v1h-2zM967 472h2v1h-2zM1087 388h2v1h-2zM1097 388h2v1h-2zM1294 388h3v1h-3zM12 543h4v1h-4zM67 543h2v1h-2zM184 543h3v1h-3zM248 543h13v1h-13zM347 543h2v1h-2zM424 543h2v1h-2zM454 543h4v1h-4zM569 543h3v1h-3zM683 543h3v1h-3zM94 552h24v1h-24zM164 552h2v1h-2zM38 539h5v1h-5zM58 539h2v1h-2zM203 539h28v1h-28zM383 539h8v1h-8zM413 539h4v1h-4zM462 539h2v1h-2zM561 539h2v1h-2zM692 539h2v1h-2zM824 508h3v1h-3zM538 530h5v1h-5zM712 530h2v1h-2zM889 490h3v1h-3zM788 515h5v1h-5zM472 531h2v1h-2zM543 531h4v1h-4zM709 531h3v1h-3zM1085 389h2v1h-2zM1099 389h2v1h-2zM1292 389h2v1h-2zM4 545h4v1h-4zM72 545h4v1h-4zM179 545h3v1h-3zM293 545h5v1h-5zM342 545h2v1h-2zM428 545h15v1h-15zM574 545h4v1h-4zM677 545h2v1h-2zM932 471h2v1h-2zM938 471h14v1h-14zM969 471h5v1h-5zM19 541h14v1h-14zM62 541h2v1h-2zM189 541h9v1h-9zM240 541h4v1h-4zM353 541h5v1h-5zM419 541h3v1h-3zM565 541h2v1h-2zM688 541h2v1h-2zM738 520h20v1h-20zM79 547h3v1h-3zM174 547h3v1h-3zM306 547h33v1h-33zM583 547h5v1h-5zM668 547h5v1h-5zM979 469h4v1h-4zM892 489h2v1h-2zM522 527h2v1h-2zM719 527h3v1h-3zM1137 406h2v1h-2zM1241 406h2v1h-2zM854 499h9v1h-9zM1 546h3v1h-3zM76 546h3v1h-3zM177 546h2v1h-2zM298 546h8v1h-8zM339 546h3v1h-3zM578 546h5v1h-5zM673 546h4v1h-4zM478 526h4v1h-4zM519 526h3v1h-3zM722 526h2v1h-2zM1175 419h2v1h-2zM1217 419h2v1h-2zM1166 414h2v1h-2zM1227 414h2v1h-2zM1053 397h2v1h-2zM1113 397h2v1h-2zM1273 397h4v1h-4zM870 496h4v1h-4zM793 514h5v1h-5zM1064 392h3v1h-3zM1285 392h2v1h-2zM86 549h3v1h-3zM170 549h2v1h-2zM593 549h5v1h-5zM616 549h10v1h-10zM653 549h8v1h-8zM1126 399h2v1h-2zM1258 399h11v1h-11zM531 529h7v1h-7zM714 529h3v1h-3zM1128 400h2v1h-2zM1254 400h4v1h-4zM89 550h3v1h-3zM168 550h2v1h-2zM598 550h18v1h-18zM626 550h27v1h-27zM778 517h5v1h-5zM547 532h2v1h-2zM707 532h2v1h-2zM16 542h3v1h-3zM64 542h3v1h-3zM187 542h2v1h-2zM244 542h4v1h-4zM349 542h4v1h-4zM422 542h2v1h-2zM458 542h2v1h-2zM567 542h2v1h-2zM686 542h2v1h-2zM763 518h15v1h-15zM1143 410h2v1h-2zM1234 410h2v1h-2zM1145 411h3v1h-3zM1153 411h10v1h-10zM1232 411h2v1h-2zM1089 387h8v1h-8zM1297 387h2v1h-2zM783 516h5v1h-5zM822 509h2v1h-2zM910 477h2v1h-2zM482 525h9v1h-9zM517 525h2v1h-2zM724 525h3v1h-3zM1224 416h2v1h-2zM1082 391h2v1h-2zM1103 391h2v1h-2zM1287 391h2v1h-2zM1059 394h3v1h-3zM1069 394h3v1h-3zM1078 394h2v1h-2zM1108 394h2v1h-2zM1281 394h2v1h-2zM934 470h4v1h-4zM974 470h5v1h-5zM919 473h7v1h-7zM954 473h4v1h-4zM963 473h4v1h-4zM467 535h2v1h-2zM553 535h2v1h-2zM700 535h2v1h-2zM128 555h30v1h-30zM491 524h7v1h-7zM513 524h4v1h-4zM727 524h2v1h-2zM818 510h4v1h-4zM1168 415h2v1h-2zM1133 403h2v1h-2zM1247 403h2v1h-2zM1188 424h23v1h-23zM1179 421h3v1h-3zM48 537h6v1h-6zM557 537h2v1h-2zM696 537h2v1h-2zM524 528h7v1h-7zM717 528h2v1h-2zM123 554h5v1h-5zM158 554h4v1h-4zM118 553h5v1h-5zM162 553h2v1h-2zM878 494h4v1h-4zM1141 409h2v1h-2zM1236 409h2v1h-2zM92 551h2v1h-2zM166 551h2v1h-2zM914 475h3v1h-3zM1055 396h2v1h-2zM1074 396h2v1h-2zM1111 396h2v1h-2zM1277 396h2v1h-2zM987 466h2v1h-2zM843 503h4v1h-4zM1062 393h2v1h-2zM1067 393h2v1h-2zM1106 393h2v1h-2zM1283 393h2v1h-2zM1041 405h2v1h-2zM1243 405h2v1h-2zM798 513h10v1h-10zM1299 386h3v1h-3zM1101 390h2v1h-2zM1289 390h3v1h-3zM852 500h2v1h-2zM1306 383h2v1h-2zM867 497h3v1h-3zM1047 401h2v1h-2zM1252 401h2v1h-2zM549 533h2v1h-2zM704 533h3v1h-3zM734 521h4v1h-4zM1057 395h2v1h-2zM1072 395h2v1h-2zM1076 395h2v1h-2zM1279 395h2v1h-2zM1184 423h4v1h-4zM1211 423h2v1h-2zM829 506h4v1h-4zM908 478h2v1h-2zM808 512h5v1h-5zM1148 412h5v1h-5zM1163 412h2v1h-2zM1230 412h2v1h-2zM1177 420h2v1h-2zM1215 420h2v1h-2zM1308 382h2v1h-2zM1304 384h2v1h-2zM917 474h2v1h-2zM958 474h5v1h-5zM882 493h2v1h-2zM863 498h4v1h-4zM827 507h2v1h-2zM1171 417h2v1h-2zM1222 417h2v1h-2zM983 468h3v1h-3zM884 492h3v1h-3zM906 479h2v1h-2zM758 519h5v1h-5zM1182 422h2v1h-2zM1173 418h2v1h-2zM1219 418h3v1h-3zM874 495h4v1h-4zM838 504h5v1h-5zM1131 402h2v1h-2zM1249 402h3v1h-3zM551 534h2v1h-2zM702 534h2v1h-2zM903 481h2v1h-2zM887 491h2v1h-2zM1312 379h2v1h-2zM1037 408h2v1h-2zM1238 408h2v1h-2zM847 502h2v1h-2zM1302 385h2v1h-2zM813 511h5v1h-5zM912 476h2v1h-2zM849 501h3v1h-3zM732 522h2v1h-2zM901 482h2v1h-2zM997 457h2v1h-2zM464 538h1v1h-1zM1002 453h1v1h-1zM466 536h1v1h-1zM1370 210h1v6h-1zM461 540h1v1h-1zM1135 404h1v1h-1zM1348 306h1v3h-1zM1368 221h1v4h-1zM1013 439h1v1h-1zM474 530h1v1h-1zM1374 191h1v6h-1zM460 541h1v1h-1zM1311 380h1v1h-1zM1338 331h1v3h-1zM1364 238h1v5h-1zM1391 113h1v6h-1zM1382 150h1v4h-1zM1356 279h1v4h-1zM1346 312h1v3h-1zM477 527h1v1h-1zM1040 406h1v1h-1zM1351 297h1v3h-1zM1027 419h1v1h-1zM900 483h1v1h-1zM1376 179h1v6h-1zM1031 414h1v1h-1zM1381 154h1v5h-1zM1345 315h1v3h-1zM1081 392h1v1h-1zM1105 392h1v1h-1zM1366 229h1v4h-1zM1050 399h1v1h-1zM1341 324h1v2h-1zM475 529h1v1h-1zM1049 400h1v1h-1zM471 532h1v1h-1zM1035 410h1v1h-1zM1034 411h1v1h-1zM1015 437h1v1h-1zM1362 248h1v6h-1zM1389 124h1v4h-1zM1375 185h1v6h-1zM1328 352h1v2h-1zM1340 326h1v2h-1zM1029 416h1v2h-1zM1170 416h1v1h-1zM1384 143h1v4h-1zM1361 254h1v6h-1zM1009 444h1v2h-1zM1030 415h1v1h-1zM1226 415h1v1h-1zM1045 403h1v1h-1zM1024 423h1v2h-1zM1001 454h1v1h-1zM1026 420h1v2h-1zM1214 421h1v1h-1zM1347 309h1v3h-1zM465 537h1v1h-1zM476 528h1v1h-1zM1360 260h1v5h-1zM1310 381h1v1h-1zM1334 341h1v2h-1zM1036 409h1v1h-1zM1317 373h1v2h-1zM1330 349h1v2h-1zM1386 136h1v3h-1zM1372 201h1v4h-1zM899 484h1v1h-1zM996 458h1v1h-1zM1333 343h1v2h-1zM1023 425h1v1h-1zM1329 351h1v1h-1zM1358 269h1v5h-1zM1019 431h1v2h-1zM1325 358h1v2h-1zM1080 393h1v1h-1zM1136 405h1v1h-1zM994 460h1v1h-1zM1014 438h1v1h-1zM1353 290h1v3h-1zM1084 390h1v1h-1zM1324 360h1v2h-1zM1320 367h1v2h-1zM1379 165h1v6h-1zM898 485h1v1h-1zM1319 369h1v2h-1zM1373 197h1v4h-1zM1130 401h1v1h-1zM1315 377h1v1h-1zM470 533h1v1h-1zM1110 395h1v1h-1zM1390 119h1v5h-1zM1359 265h1v4h-1zM1350 300h1v3h-1zM1377 175h1v4h-1zM995 459h1v1h-1zM1007 447h1v1h-1zM1371 205h1v5h-1zM1349 303h1v3h-1zM1018 433h1v1h-1zM1337 334h1v2h-1zM1388 128h1v4h-1zM1033 412h1v1h-1zM1006 448h1v2h-1zM1392 110h1v3h-1zM1323 362h1v1h-1zM1357 274h1v5h-1zM1383 147h1v3h-1zM1336 336h1v3h-1zM1344 318h1v2h-1zM1352 293h1v4h-1zM1365 233h1v5h-1zM1369 216h1v5h-1zM897 486h1v1h-1zM1335 339h1v2h-1zM1343 320h1v2h-1zM1314 378h1v1h-1zM905 480h1v1h-1zM1032 413h1v1h-1zM1165 413h1v1h-1zM1229 413h1v1h-1zM1355 283h1v4h-1zM1342 322h1v2h-1zM1385 139h1v4h-1zM1003 452h1v1h-1zM1000 455h1v1h-1zM1011 442h1v1h-1zM1380 159h1v6h-1zM1367 225h1v4h-1zM1025 422h1v1h-1zM1213 422h1v1h-1zM1028 418h1v1h-1zM1046 402h1v1h-1zM469 534h1v1h-1zM1387 132h1v4h-1zM1332 345h1v2h-1zM993 461h1v1h-1zM1039 407h1v1h-1zM1139 407h1v1h-1zM1240 407h1v1h-1zM1339 328h1v3h-1zM1012 440h1v2h-1zM999 456h1v1h-1zM1363 243h1v5h-1zM986 467h1v1h-1zM1140 408h1v1h-1zM1331 347h1v2h-1zM1378 171h1v4h-1zM1327 354h1v2h-1zM1017 434h1v1h-1zM992 462h1v1h-1zM989 465h1v1h-1zM1326 356h1v2h-1zM1322 363h1v2h-1zM1016 435h1v2h-1zM1354 287h1v3h-1zM1321 365h1v2h-1zM896 487h1v1h-1zM1316 375h1v2h-1zM1022 426h1v2h-1zM1010 443h1v1h-1zM1021 428h1v2h-1zM1004 451h1v1h-1zM1318 371h1v2h-1zM990 464h1v1h-1zM1020 430h1v1h-1zM1008 446h1v1h-1zM991 463h1v1h-1zM1005 450h1v1h-1z" fill="#ffff00"/>
<path d="M882 500h4v1h-4zM1004 462h2v1h-2zM909 490h3v1h-3zM56 542h7v1h-7zM228 542h5v1h-5zM262 542h27v1h-27zM388 542h5v1h-5zM428 542h15v1h-15zM598 542h4v1h-4zM698 542h6v1h-6zM86 545h20v1h-20zM214 545h4v1h-4zM305 545h10v1h-10zM341 545h7v1h-7zM608 545h8v1h-8zM688 545h4v1h-4zM1309 390h3v1h-3zM116 548h3v1h-3zM188 548h10v1h-10zM628 548h8v1h-8zM668 548h8v1h-8zM508 531h5v1h-5zM558 531h8v1h-8zM735 531h3v1h-3zM868 503h5v1h-5zM106 546h6v1h-6zM208 546h6v1h-6zM315 546h26v1h-26zM616 546h7v1h-7zM683 546h5v1h-5zM33 538h5v1h-5zM464 538h4v1h-4zM587 538h2v1h-2zM716 538h2v1h-2zM1091 396h2v1h-2zM1123 396h14v1h-14zM1294 396h3v1h-3zM759 524h3v1h-3zM68 544h18v1h-18zM218 544h5v1h-5zM293 544h12v1h-12zM348 544h5v1h-5zM370 544h12v1h-12zM604 544h4v1h-4zM692 544h2v1h-2zM992 466h4v1h-4zM63 543h5v1h-5zM223 543h5v1h-5zM289 543h4v1h-4zM353 543h17v1h-17zM382 543h6v1h-6zM602 543h2v1h-2zM694 543h4v1h-4zM48 541h8v1h-8zM233 541h29v1h-29zM393 541h5v1h-5zM424 541h4v1h-4zM443 541h15v1h-15zM594 541h4v1h-4zM704 541h6v1h-6zM988 468h2v1h-2zM523 527h8v1h-8zM541 527h6v1h-6zM747 527h5v1h-5zM112 547h4v1h-4zM198 547h10v1h-10zM623 547h5v1h-5zM676 547h7v1h-7zM1 535h25v1h-25zM478 535h15v1h-15zM576 535h3v1h-3zM723 535h3v1h-3zM119 549h3v1h-3zM180 549h8v1h-8zM636 549h12v1h-12zM653 549h15v1h-15zM1093 395h2v1h-2zM1108 395h15v1h-15zM1297 395h2v1h-2zM136 553h10v1h-10zM157 553h4v1h-4zM1082 402h2v1h-2zM1156 402h3v1h-3zM1282 402h2v1h-2zM770 521h6v1h-6zM969 472h4v1h-4zM146 554h11v1h-11zM762 523h3v1h-3zM513 530h4v1h-4zM553 530h5v1h-5zM738 530h3v1h-3zM899 494h3v1h-3zM38 539h5v1h-5zM403 539h15v1h-15zM462 539h2v1h-2zM589 539h3v1h-3zM714 539h2v1h-2zM787 518h9v1h-9zM43 540h5v1h-5zM398 540h5v1h-5zM418 540h6v1h-6zM458 540h4v1h-4zM592 540h2v1h-2zM710 540h4v1h-4zM958 475h4v1h-4zM122 550h4v1h-4zM173 550h7v1h-7zM648 550h5v1h-5zM984 469h4v1h-4zM1159 403h4v1h-4zM1279 403h3v1h-3zM1061 417h2v1h-2zM1221 417h10v1h-10zM939 480h4v1h-4zM1068 413h2v1h-2zM1248 413h5v1h-5zM1095 394h3v1h-3zM1103 394h5v1h-5zM1299 394h3v1h-3zM873 502h5v1h-5zM838 509h9v1h-9zM902 493h2v1h-2zM796 517h7v1h-7zM1066 414h2v1h-2zM1186 414h2v1h-2zM1243 414h5v1h-5zM928 483h5v1h-5zM823 512h5v1h-5zM26 536h3v1h-3zM473 536h5v1h-5zM579 536h4v1h-4zM720 536h3v1h-3zM1163 404h5v1h-5zM1277 404h2v1h-2zM886 499h3v1h-3zM29 537h4v1h-4zM468 537h5v1h-5zM583 537h4v1h-4zM718 537h2v1h-2zM813 514h5v1h-5zM517 529h2v1h-2zM549 529h4v1h-4zM741 529h3v1h-3zM498 533h5v1h-5zM569 533h3v1h-3zM729 533h3v1h-3zM1088 398h2v1h-2zM1139 398h4v1h-4zM1290 398h2v1h-2zM919 486h3v1h-3zM531 526h10v1h-10zM752 526h4v1h-4zM493 534h5v1h-5zM572 534h4v1h-4zM726 534h3v1h-3zM1152 401h4v1h-4zM1284 401h2v1h-2zM1307 391h2v1h-2zM999 464h3v1h-3zM1192 418h29v1h-29zM1063 416h2v1h-2zM1231 416h7v1h-7zM949 477h4v1h-4zM781 519h6v1h-6zM978 470h6v1h-6zM1047 426h2v1h-2zM966 473h3v1h-3zM897 495h2v1h-2zM953 476h5v1h-5zM776 520h5v1h-5zM1011 458h2v1h-2zM1008 460h2v1h-2zM1183 412h2v1h-2zM1253 412h5v1h-5zM1188 415h2v1h-2zM1238 415h5v1h-5zM126 551h3v1h-3zM166 551h7v1h-7zM1177 409h2v1h-2zM1267 409h2v1h-2zM849 507h6v1h-6zM1077 406h2v1h-2zM1171 406h2v1h-2zM1273 406h2v1h-2zM1148 400h4v1h-4zM1286 400h2v1h-2zM1053 422h2v1h-2zM519 528h4v1h-4zM547 528h2v1h-2zM744 528h3v1h-3zM1017 454h2v1h-2zM889 498h3v1h-3zM765 522h5v1h-5zM1304 392h3v1h-3zM990 467h2v1h-2zM1086 399h2v1h-2zM1143 399h5v1h-5zM1288 399h2v1h-2zM129 552h7v1h-7zM161 552h5v1h-5zM1168 405h3v1h-3zM1275 405h2v1h-2zM1173 407h2v1h-2zM1271 407h2v1h-2zM943 479h4v1h-4zM808 515h5v1h-5zM1002 463h2v1h-2zM907 491h2v1h-2zM503 532h5v1h-5zM566 532h3v1h-3zM732 532h3v1h-3zM1032 440h2v1h-2zM973 471h5v1h-5zM962 474h4v1h-4zM1181 411h2v1h-2zM1258 411h5v1h-5zM1072 410h2v1h-2zM1179 410h2v1h-2zM1263 410h4v1h-4zM917 487h2v1h-2zM847 508h2v1h-2zM1314 388h2v1h-2zM1051 423h2v1h-2zM996 465h3v1h-3zM860 505h4v1h-4zM904 492h3v1h-3zM1058 419h2v1h-2zM756 525h3v1h-3zM894 496h3v1h-3zM1137 397h2v1h-2zM1292 397h2v1h-2zM1006 461h2v1h-2zM803 516h5v1h-5zM833 510h5v1h-5zM818 513h5v1h-5zM914 488h3v1h-3zM1098 393h5v1h-5zM1302 393h2v1h-2zM933 482h4v1h-4zM922 485h2v1h-2zM892 497h2v1h-2zM937 481h2v1h-2zM855 506h5v1h-5zM1312 389h2v1h-2zM1175 408h2v1h-2zM1269 408h2v1h-2zM947 478h2v1h-2zM828 511h5v1h-5zM924 484h4v1h-4zM1056 420h2v1h-2zM878 501h4v1h-4zM864 504h4v1h-4zM912 489h2v1h-2zM1013 457h2v1h-2zM1351 340h1v2h-1zM1374 278h1v3h-1zM1349 343h1v2h-1zM1346 349h1v2h-1zM1341 357h1v2h-1zM1382 249h1v4h-1zM1373 281h1v3h-1zM1337 363h1v1h-1zM1081 403h1v1h-1zM1191 417h1v1h-1zM1185 413h1v1h-1zM1377 267h1v4h-1zM1357 327h1v2h-1zM1356 329h1v3h-1zM1019 453h1v1h-1zM1340 359h1v1h-1zM1365 307h1v3h-1zM1080 404h1v1h-1zM1026 446h1v1h-1zM1376 271h1v4h-1zM1355 332h1v2h-1zM1364 310h1v2h-1zM1363 312h1v3h-1zM1084 401h1v1h-1zM1371 288h1v3h-1zM1060 418h1v1h-1zM1040 433h1v1h-1zM1190 416h1v1h-1zM1384 242h1v4h-1zM1354 334h1v2h-1zM1362 315h1v3h-1zM1350 342h1v1h-1zM1379 260h1v4h-1zM1044 429h1v1h-1zM1318 385h1v1h-1zM1361 318h1v2h-1zM1378 264h1v3h-1zM1330 372h1v1h-1zM1070 412h1v1h-1zM1065 415h1v1h-1zM1074 409h1v1h-1zM1085 400h1v1h-1zM1370 291h1v3h-1zM1328 374h1v1h-1zM1386 235h1v4h-1zM1381 253h1v4h-1zM1025 447h1v1h-1zM1041 432h1v1h-1zM1389 225h1v4h-1zM1079 405h1v1h-1zM1076 407h1v1h-1zM1358 325h1v2h-1zM1322 380h1v2h-1zM1383 246h1v3h-1zM1334 367h1v1h-1zM1329 373h1v1h-1zM1391 217h1v5h-1zM1321 382h1v1h-1zM1031 441h1v1h-1zM1385 239h1v3h-1zM1037 436h1v1h-1zM1380 257h1v3h-1zM1071 411h1v1h-1zM1367 300h1v4h-1zM1339 360h1v2h-1zM1055 421h1v1h-1zM1388 229h1v3h-1zM1366 304h1v3h-1zM1016 455h1v1h-1zM1333 368h1v1h-1zM1023 449h1v1h-1zM1353 336h1v2h-1zM1030 442h1v1h-1zM1369 294h1v3h-1zM1090 397h1v1h-1zM1352 338h1v2h-1zM1010 459h1v1h-1zM1348 345h1v2h-1zM1360 320h1v3h-1zM1344 352h1v2h-1zM1372 284h1v4h-1zM1327 375h1v1h-1zM1319 384h1v1h-1zM1024 448h1v1h-1zM1038 435h1v1h-1zM1045 428h1v1h-1zM1042 431h1v1h-1zM1347 347h1v2h-1zM1343 354h1v1h-1zM1075 408h1v1h-1zM1326 376h1v1h-1zM1342 355h1v2h-1zM1392 213h1v4h-1zM1387 232h1v3h-1zM1034 439h1v1h-1zM1390 222h1v3h-1zM1050 424h1v1h-1zM1368 297h1v3h-1zM1320 383h1v1h-1zM1332 369h1v2h-1zM1359 323h1v2h-1zM1022 450h1v1h-1zM1338 362h1v1h-1zM1029 443h1v1h-1zM1375 275h1v3h-1zM1036 437h1v1h-1zM1027 445h1v1h-1zM1043 430h1v1h-1zM1015 456h1v1h-1zM1049 425h1v1h-1zM1324 378h1v1h-1zM1316 387h1v1h-1zM1336 364h1v2h-1zM1331 371h1v1h-1zM1021 451h1v1h-1zM1028 444h1v1h-1zM1035 438h1v1h-1zM1039 434h1v1h-1zM1046 427h1v1h-1zM1345 351h1v1h-1zM1325 377h1v1h-1zM1317 386h1v1h-1zM1323 379h1v1h-1zM1335 366h1v1h-1zM1020 452h1v1h-1z" fill="#ff00ff"/>
<path d="M933 508h5v1h-5zM133 541h24v1h-24zM460 541h6v1h-6zM781 534h20v1h-20zM962 501h4v1h-4zM1112 445h4v1h-4zM517 538h107v1h-107zM708 538h9v1h-9zM88 544h5v1h-5zM231 544h10v1h-10zM382 544h25v1h-25zM423 544h10v1h-10zM78 546h5v1h-5zM305 546h58v1h-58zM1340 390h2v1h-2zM83 545h5v1h-5zM241 545h64v1h-64zM363 545h19v1h-19zM1105 447h4v1h-4zM723 536h14v1h-14zM949 504h4v1h-4zM717 537h6v1h-6zM497 539h20v1h-20zM624 539h24v1h-24zM690 539h18v1h-18zM101 542h32v1h-32zM157 542h55v1h-55zM443 542h17v1h-17zM1095 450h2v1h-2zM938 507h4v1h-4zM1 558h4v1h-4zM926 510h3v1h-3zM24 554h7v1h-7zM93 543h8v1h-8zM212 543h19v1h-19zM407 543h16v1h-16zM433 543h10v1h-10zM17 555h7v1h-7zM1279 405h4v1h-4zM848 528h5v1h-5zM1203 423h5v1h-5zM841 529h7v1h-7zM5 557h6v1h-6zM873 523h5v1h-5zM1036 476h3v1h-3zM1294 402h11v1h-11zM1156 433h3v1h-3zM902 516h4v1h-4zM1188 425h8v1h-8zM1254 411h5v1h-5zM1183 426h5v1h-5zM1026 479h3v1h-3zM466 540h31v1h-31zM648 540h42v1h-42zM1216 420h3v1h-3zM995 491h3v1h-3zM1348 386h2v1h-2zM889 519h4v1h-4zM1243 414h5v1h-5zM1169 429h4v1h-4zM878 522h4v1h-4zM801 533h15v1h-15zM1228 417h5v1h-5zM1305 401h10v1h-10zM43 551h5v1h-5zM1159 432h3v1h-3zM1129 440h4v1h-4zM1329 395h3v1h-3zM1152 434h4v1h-4zM972 498h4v1h-4zM1350 385h2v1h-2zM1319 399h3v1h-3zM1142 437h4v1h-4zM1208 422h4v1h-4zM984 495h4v1h-4zM1013 484h3v1h-3zM942 506h4v1h-4zM831 530h10v1h-10zM68 547h10v1h-10zM1119 443h3v1h-3zM1173 428h5v1h-5zM1047 472h2v1h-2zM11 556h6v1h-6zM1338 391h2v1h-2zM913 513h5v1h-5zM1003 488h3v1h-3zM1288 403h6v1h-6zM893 518h5v1h-5zM1276 406h3v1h-3zM882 521h4v1h-4zM1097 449h4v1h-4zM737 535h44v1h-44zM1162 431h4v1h-4zM1032 477h4v1h-4zM1223 418h5v1h-5zM898 517h4v1h-4zM1088 453h3v1h-3zM1252 412h2v1h-2zM1178 427h5v1h-5zM1084 455h2v1h-2zM1212 421h4v1h-4zM1238 415h5v1h-5zM979 496h5v1h-5zM1039 475h3v1h-3zM1265 409h4v1h-4zM1060 466h2v1h-2zM1029 478h3v1h-3zM1219 419h4v1h-4zM1056 468h2v1h-2zM1024 480h2v1h-2zM1315 400h4v1h-4zM1346 387h2v1h-2zM1075 459h2v1h-2zM969 499h3v1h-3zM816 532h10v1h-10zM958 502h4v1h-4zM1109 446h3v1h-3zM1016 483h3v1h-3zM946 505h3v1h-3zM909 514h4v1h-4zM1001 489h2v1h-2zM858 526h7v1h-7zM922 511h4v1h-4zM1044 473h3v1h-3zM886 520h3v1h-3zM1064 464h2v1h-2zM1166 430h3v1h-3zM37 552h6v1h-6zM1086 454h2v1h-2zM1052 470h2v1h-2zM53 549h5v1h-5zM1138 438h4v1h-4zM1101 448h4v1h-4zM1133 439h5v1h-5zM1116 444h3v1h-3zM1093 451h2v1h-2zM1066 463h2v1h-2zM1327 396h2v1h-2zM1149 435h3v1h-3zM993 492h2v1h-2zM1248 413h4v1h-4zM988 494h2v1h-2zM1259 410h6v1h-6zM1126 441h3v1h-3zM58 548h10v1h-10zM1054 469h2v1h-2zM953 503h5v1h-5zM1073 460h2v1h-2zM1011 485h2v1h-2zM966 500h3v1h-3zM929 509h4v1h-4zM918 512h4v1h-4zM1336 392h2v1h-2zM906 515h3v1h-3zM1091 452h2v1h-2zM1283 404h5v1h-5zM1272 407h4v1h-4zM1233 416h5v1h-5zM870 524h3v1h-3zM1062 465h2v1h-2zM31 553h6v1h-6zM1082 456h2v1h-2zM1021 481h3v1h-3zM48 550h5v1h-5zM1196 424h7v1h-7zM1324 397h3v1h-3zM990 493h3v1h-3zM1344 388h2v1h-2zM1008 486h3v1h-3zM1071 461h2v1h-2zM1042 474h2v1h-2zM1352 384h2v1h-2zM1334 393h2v1h-2zM1269 408h3v1h-3zM1354 383h2v1h-2zM1146 436h3v1h-3zM1122 442h4v1h-4zM1019 482h2v1h-2zM1342 389h2v1h-2zM826 531h5v1h-5zM865 525h5v1h-5zM1080 457h2v1h-2zM1359 379h2v1h-2zM1322 398h2v1h-2zM976 497h3v1h-3zM1068 462h3v1h-3zM853 527h5v1h-5zM1332 394h2v1h-2zM998 490h3v1h-3zM1077 458h3v1h-3zM1049 471h3v1h-3zM1006 487h2v1h-2zM1058 467h2v1h-2zM1365 374h1v1h-1zM1391 344h1v2h-1zM1383 353h1v1h-1zM1372 366h1v1h-1zM1364 375h1v1h-1zM1379 359h1v1h-1zM1376 362h1v1h-1zM1387 349h1v1h-1zM1357 381h1v1h-1zM1384 352h1v1h-1zM1381 355h1v2h-1zM1368 370h1v2h-1zM1388 348h1v1h-1zM1358 380h1v1h-1zM1370 368h1v1h-1zM1362 377h1v1h-1zM1377 361h1v1h-1zM1392 343h1v1h-1zM1382 354h1v1h-1zM1363 376h1v1h-1zM1369 369h1v1h-1zM1389 347h1v1h-1zM1361 378h1v1h-1zM1373 365h1v1h-1zM1380 357h1v2h-1zM1356 382h1v1h-1zM1385 351h1v1h-1zM1374 364h1v1h-1zM1366 373h1v1h-1zM1378 360h1v1h-1zM1375 363h1v1h-1zM1386 350h1v1h-1zM1367 372h1v1h-1zM1390 346h1v1h-1zM1371 367h1v1h-1z" fill="#00ff00"/>
<text x="1322.3" y="32.3" fill="#c3c3c3" font-size="12.4" text-anchor="start">281.88</text>
<text x="437.3" y="582.2" fill="#c3c3c3" font-size="12.4" text-anchor="start">64.47</text>
<rect x="424" y="576" width="2" height="3" fill="#c8c8c8"/>
<rect x="426" y="577" width="10" height="1" fill="#e0e0e0"/>
<rect x="426" y="575" width="2" height="1" fill="#c4c4c4"/>
<rect x="426" y="579" width="1" height="1" fill="#c4c4c4"/>
<rect x="427" y="580" width="1" height="1" fill="#c4c4c4"/>
<rect x="1362" y="25" width="3" height="1" fill="#e6e6e6"/>
<rect x="1365" y="24" width="5" height="1" fill="#e6e6e6"/>
<rect x="1370" y="23" width="5" height="1" fill="#e6e6e6"/>
<rect x="1375" y="22" width="5" height="1" fill="#e6e6e6"/>
<rect x="1380" y="21" width="2" height="1" fill="#e6e6e6"/>
<rect x="1381" y="22" width="1" height="1" fill="#e6e6e6"/>
<rect x="1380" y="23" width="1" height="1" fill="#e6e6e6"/>
<rect x="1379" y="23" width="1" height="1" fill="#e6e6e6"/>
<rect x="1378" y="24" width="1" height="1" fill="#e6e6e6"/>
<rect x="1377" y="25" width="1" height="1" fill="#e6e6e6"/>
<rect x="1376" y="20" width="1" height="1" fill="#e6e6e6"/>
<rect x="594" y="588" width="1" height="1" fill="#ff0000"/>
<rect x="593" y="589" width="3" height="1" fill="#ff0000"/>
<rect x="592" y="590" width="5" height="1" fill="#ff0000"/>
<rect x="593" y="592" width="4" height="1" fill="#ff0000"/>
<rect x="592" y="593" width="2" height="1" fill="#ff0000"/>
<rect x="597" y="593" width="1" height="1" fill="#ff0000"/>
<rect x="592" y="594" width="3" height="1" fill="#ff0000"/>
<rect x="593" y="595" width="4" height="1" fill="#ff0000"/>
<rect x="595" y="596" width="3" height="1" fill="#ff0000"/>
<rect x="592" y="597" width="1" height="1" fill="#ff0000"/>
<rect x="596" y="597" width="2" height="1" fill="#ff0000"/>
<rect x="592" y="598" width="5" height="1" fill="#ff0000"/>
<rect x="1027" y="586" width="13" height="13" fill="#008200"/>
<rect x="1038" y="586" width="2" height="1" fill="#03030d"/>
<rect x="1039" y="587" width="1" height="1" fill="#03030d"/>
<rect x="1036" y="586" width="1" height="1" fill="#ffffff"/>
<rect x="1029" y="587" width="4" height="1" fill="#ffffff"/>
<rect x="1034" y="587" width="1" height="1" fill="#ffffff"/>
<rect x="1036" y="587" width="1" height="1" fill="#ffffff"/>
<rect x="1029" y="588" width="1" height="1" fill="#ffffff"/>
<rect x="1032" y="588" width="1" height="1" fill="#ffffff"/>
<rect x="1034" y="588" width="1" height="1" fill="#ffffff"/>
<rect x="1036" y="588" width="1" height="1" fill="#ffffff"/>
<rect x="1029" y="589" width="1" height="1" fill="#ffffff"/>
<rect x="1032" y="589" width="1" height="1" fill="#ffffff"/>
<rect x="1034" y="589" width="5" height="1" fill="#ffffff"/>
<rect x="1029" y="590" width="5" height="1" fill="#ffffff"/>
<rect x="1036" y="590" width="1" height="1" fill="#ffffff"/>
<rect x="1031" y="591" width="1" height="1" fill="#ffffff"/>
<rect x="1036" y="591" width="1" height="1" fill="#ffffff"/>
<rect x="1029" y="592" width="1" height="1" fill="#ffffff"/>
<rect x="1031" y="592" width="1" height="1" fill="#ffffff"/>
<rect x="1033" y="592" width="7" height="1" fill="#ffffff"/>
<rect x="1029" y="593" width="1" height="1" fill="#ffffff"/>
<rect x="1031" y="593" width="2" height="1" fill="#ffffff"/>
<rect x="1036" y="593" width="1" height="1" fill="#ffffff"/>
<rect x="1029" y="594" width="1" height="1" fill="#ffffff"/>
<rect x="1031" y="594" width="1" height="1" fill="#ffffff"/>
<rect x="1035" y="594" width="1" height="1" fill="#ffffff"/>
<rect x="1037" y="594" width="1" height="1" fill="#ffffff"/>
<rect x="1029" y="595" width="1" height="1" fill="#ffffff"/>
<rect x="1031" y="595" width="2" height="1" fill="#ffffff"/>
<rect x="1034" y="595" width="1" height="1" fill="#ffffff"/>
<rect x="1037" y="595" width="1" height="1" fill="#ffffff"/>
<rect x="1028" y="596" width="3" height="1" fill="#ffffff"/>
<rect x="1033" y="596" width="1" height="1" fill="#ffffff"/>
<rect x="1038" y="596" width="1" height="1" fill="#ffffff"/>
<rect x="1029" y="597" width="1" height="1" fill="#ffffff"/>
<rect x="1032" y="597" width="1" height="1" fill="#ffffff"/>
<rect x="1039" y="597" width="1" height="1" fill="#ffffff"/>
<rect x="1081" y="586" width="13" height="13" fill="#003c78"/>
<rect x="1092" y="586" width="2" height="1" fill="#03030d"/>
<rect x="1093" y="587" width="1" height="1" fill="#03030d"/>
<rect x="1091" y="587" width="1" height="1" fill="#ffffff"/>
<rect x="1082" y="588" width="5" height="1" fill="#ffffff"/>
<rect x="1091" y="588" width="1" height="1" fill="#ffffff"/>
<rect x="1082" y="589" width="1" height="1" fill="#ffffff"/>
<rect x="1086" y="589" width="1" height="1" fill="#ffffff"/>
<rect x="1088" y="589" width="5" height="1" fill="#ffffff"/>
<rect x="1082" y="590" width="1" height="1" fill="#ffffff"/>
<rect x="1084" y="590" width="1" height="1" fill="#ffffff"/>
<rect x="1086" y="590" width="1" height="1" fill="#ffffff"/>
<rect x="1091" y="590" width="1" height="1" fill="#ffffff"/>
<rect x="1082" y="591" width="1" height="1" fill="#ffffff"/>
<rect x="1084" y="591" width="1" height="1" fill="#ffffff"/>
<rect x="1086" y="591" width="1" height="1" fill="#ffffff"/>
<rect x="1090" y="591" width="2" height="1" fill="#ffffff"/>
<rect x="1082" y="592" width="1" height="1" fill="#ffffff"/>
<rect x="1084" y="592" width="1" height="1" fill="#ffffff"/>
<rect x="1086" y="592" width="1" height="1" fill="#ffffff"/>
<rect x="1090" y="592" width="2" height="1" fill="#ffffff"/>
<rect x="1082" y="593" width="1" height="1" fill="#ffffff"/>
<rect x="1084" y="593" width="1" height="1" fill="#ffffff"/>
<rect x="1086" y="593" width="1" height="1" fill="#ffffff"/>
<rect x="1089" y="593" width="1" height="1" fill="#ffffff"/>
<rect x="1091" y="593" width="1" height="1" fill="#ffffff"/>
<rect x="1082" y="594" width="1" height="1" fill="#ffffff"/>
<rect x="1084" y="594" width="1" height="1" fill="#ffffff"/>
<rect x="1086" y="594" width="1" height="1" fill="#ffffff"/>
<rect x="1088" y="594" width="1" height="1" fill="#ffffff"/>
<rect x="1091" y="594" width="1" height="1" fill="#ffffff"/>
<rect x="1084" y="595" width="1" height="1" fill="#ffffff"/>
<rect x="1087" y="595" width="1" height="1" fill="#ffffff"/>
<rect x="1091" y="595" width="1" height="1" fill="#ffffff"/>
<rect x="1083" y="596" width="1" height="1" fill="#ffffff"/>
<rect x="1085" y="596" width="1" height="1" fill="#ffffff"/>
<rect x="1091" y="596" width="1" height="1" fill="#ffffff"/>
<rect x="1082" y="597" width="1" height="1" fill="#ffffff"/>
<rect x="1086" y="597" width="1" height="1" fill="#ffffff"/>
<rect x="1090" y="597" width="2" height="1" fill="#ffffff"/>
<rect x="1348" y="586" width="9" height="13" fill="#c8500f"/>
<rect x="1350" y="587" width="3" height="1" fill="#ffffff"/>
<rect x="1355" y="587" width="2" height="1" fill="#ffffff"/>
<rect x="1352" y="588" width="1" height="1" fill="#ffffff"/>
<rect x="1350" y="589" width="1" height="1" fill="#ffffff"/>
<rect x="1352" y="589" width="1" height="1" fill="#ffffff"/>
<rect x="1356" y="589" width="1" height="1" fill="#ffffff"/>
<rect x="1351" y="590" width="1" height="1" fill="#ffffff"/>
<rect x="1355" y="590" width="1" height="1" fill="#ffffff"/>
<rect x="1349" y="591" width="5" height="1" fill="#ffffff"/>
<rect x="1355" y="591" width="1" height="1" fill="#ffffff"/>
<rect x="1351" y="592" width="1" height="1" fill="#ffffff"/>
<rect x="1353" y="592" width="1" height="1" fill="#ffffff"/>
<rect x="1355" y="592" width="1" height="1" fill="#ffffff"/>
<rect x="1351" y="593" width="1" height="1" fill="#ffffff"/>
<rect x="1355" y="593" width="1" height="1" fill="#ffffff"/>
<rect x="1351" y="594" width="1" height="1" fill="#ffffff"/>
<rect x="1355" y="594" width="1" height="1" fill="#ffffff"/>
<rect x="1351" y="595" width="1" height="1" fill="#ffffff"/>
<rect x="1351" y="596" width="1" height="1" fill="#ffffff"/>
<rect x="1356" y="596" width="1" height="1" fill="#ffffff"/>
<rect x="1350" y="597" width="2" height="1" fill="#ffffff"/>
<rect x="1355" y="597" width="1" height="1" fill="#ffffff"/>
<rect x="1357" y="586" width="11" height="13" fill="#8c0000"/>
<rect x="1364" y="587" width="1" height="1" fill="#ffffff"/>
<rect x="1358" y="588" width="1" height="1" fill="#ffffff"/>
<rect x="1360" y="588" width="3" height="1" fill="#ffffff"/>
<rect x="1364" y="588" width="1" height="1" fill="#ffffff"/>
<rect x="1367" y="588" width="1" height="1" fill="#ffffff"/>
<rect x="1359" y="589" width="1" height="1" fill="#ffffff"/>
<rect x="1362" y="589" width="1" height="1" fill="#ffffff"/>
<rect x="1364" y="589" width="1" height="1" fill="#ffffff"/>
<rect x="1366" y="589" width="1" height="1" fill="#ffffff"/>
<rect x="1360" y="590" width="3" height="1" fill="#ffffff"/>
<rect x="1364" y="590" width="2" height="1" fill="#ffffff"/>
<rect x="1360" y="591" width="1" height="1" fill="#ffffff"/>
<rect x="1364" y="591" width="1" height="1" fill="#ffffff"/>
<rect x="1358" y="592" width="1" height="1" fill="#ffffff"/>
<rect x="1360" y="592" width="1" height="1" fill="#ffffff"/>
<rect x="1363" y="592" width="5" height="1" fill="#ffffff"/>
<rect x="1359" y="593" width="4" height="1" fill="#ffffff"/>
<rect x="1364" y="593" width="1" height="1" fill="#ffffff"/>
<rect x="1366" y="593" width="1" height="1" fill="#ffffff"/>
<rect x="1362" y="594" width="1" height="1" fill="#ffffff"/>
<rect x="1364" y="594" width="1" height="1" fill="#ffffff"/>
<rect x="1366" y="594" width="1" height="1" fill="#ffffff"/>
<rect x="1359" y="595" width="1" height="1" fill="#ffffff"/>
<rect x="1362" y="595" width="1" height="1" fill="#ffffff"/>
<rect x="1364" y="595" width="1" height="1" fill="#ffffff"/>
<rect x="1367" y="595" width="1" height="1" fill="#ffffff"/>
<rect x="1358" y="596" width="1" height="1" fill="#ffffff"/>
<rect x="1362" y="596" width="1" height="1" fill="#ffffff"/>
<rect x="1364" y="596" width="2" height="1" fill="#ffffff"/>
<rect x="1360" y="597" width="2" height="1" fill="#ffffff"/>
<rect x="1364" y="597" width="1" height="1" fill="#ffffff"/>
<rect x="1368" y="586" width="13" height="13" fill="#008200"/>
<rect x="1379" y="586" width="2" height="1" fill="#03030d"/>
<rect x="1380" y="587" width="1" height="1" fill="#03030d"/>
<rect x="1369" y="587" width="1" height="1" fill="#ffffff"/>
<rect x="1376" y="587" width="1" height="1" fill="#ffffff"/>
<rect x="1378" y="587" width="1" height="1" fill="#ffffff"/>
<rect x="1370" y="588" width="1" height="1" fill="#ffffff"/>
<rect x="1376" y="588" width="1" height="1" fill="#ffffff"/>
<rect x="1378" y="588" width="1" height="1" fill="#ffffff"/>
<rect x="1370" y="589" width="1" height="1" fill="#ffffff"/>
<rect x="1372" y="589" width="8" height="1" fill="#ffffff"/>
<rect x="1372" y="590" width="1" height="1" fill="#ffffff"/>
<rect x="1376" y="590" width="1" height="1" fill="#ffffff"/>
<rect x="1370" y="591" width="1" height="1" fill="#ffffff"/>
<rect x="1372" y="591" width="5" height="1" fill="#ffffff"/>
<rect x="1379" y="591" width="1" height="1" fill="#ffffff"/>
<rect x="1370" y="592" width="1" height="1" fill="#ffffff"/>
<rect x="1372" y="592" width="1" height="1" fill="#ffffff"/>
<rect x="1376" y="592" width="1" height="1" fill="#ffffff"/>
<rect x="1379" y="592" width="1" height="1" fill="#ffffff"/>
<rect x="1369" y="593" width="1" height="1" fill="#ffffff"/>
<rect x="1372" y="593" width="5" height="1" fill="#ffffff"/>
<rect x="1378" y="593" width="1" height="1" fill="#ffffff"/>
<rect x="1369" y="594" width="1" height="1" fill="#ffffff"/>
<rect x="1372" y="594" width="2" height="1" fill="#ffffff"/>
<rect x="1375" y="594" width="3" height="1" fill="#ffffff"/>
<rect x="1369" y="595" width="1" height="1" fill="#ffffff"/>
<rect x="1371" y="595" width="5" height="1" fill="#ffffff"/>
<rect x="1377" y="595" width="1" height="1" fill="#ffffff"/>
<rect x="1379" y="595" width="1" height="1" fill="#ffffff"/>
<rect x="1369" y="596" width="1" height="1" fill="#ffffff"/>
<rect x="1371" y="596" width="1" height="1" fill="#ffffff"/>
<rect x="1376" y="596" width="1" height="1" fill="#ffffff"/>
<rect x="1378" y="596" width="2" height="1" fill="#ffffff"/>
<rect x="1370" y="597" width="1" height="1" fill="#ffffff"/>
<rect x="1375" y="597" width="1" height="1" fill="#ffffff"/>
<rect x="1379" y="597" width="1" height="1" fill="#ffffff"/>
<rect x="1379" y="586" width="1" height="1" fill="#a85400"/>
<rect x="1380" y="587" width="1" height="1" fill="#a85400"/>
<rect x="1381" y="588" width="1" height="11" fill="#a85400"/>
<text x="1.2" y="12" fill="#c3c3c3" font-size="12" text-anchor="start" font-family="&quot;Liberation Sans&quot;,&quot;Noto Sans CJK SC&quot;,sans-serif" shape-rendering="auto">金海通</text>
<text x="41.3" y="12" fill="#c3c3c3" font-size="12.4" text-anchor="start">(</text>
<text x="46.3" y="12" fill="#c3c3c3" font-size="12" text-anchor="start" font-family="&quot;Liberation Sans&quot;,&quot;Noto Sans CJK SC&quot;,sans-serif" shape-rendering="auto">日线</text>
<text x="68.2" y="12" fill="#c3c3c3" font-size="12.4" text-anchor="start">)</text>
<circle cx="84" cy="8" r="6.05" fill="#808080" shape-rendering="auto"/>
<path d="M81.1 7.1L83.5 9.5L84.5 9.5L86.9 7.1" stroke="#141414" stroke-width="1.15" fill="none" shape-rendering="auto"/>
<text x="94.2" y="12" fill="#ffffff" font-size="12.6" text-anchor="start">MA5: 269.46</text>
<text x="171" y="12" fill="#ffff00" font-size="12.6" text-anchor="start">MA10: 247.60</text>
<text x="254.8" y="12" fill="#ff00ff" font-size="12.6" text-anchor="start">MA20: 207.08</text>
<text x="338.8" y="12" fill="#00ee00" font-size="12.6" text-anchor="start">MA60: 156.42</text>
<rect x="1383" y="13" width="1" height="1" fill="#707070"/>
<rect x="1383" y="3" width="1" height="1" fill="#707070"/>
<rect x="1382" y="12" width="1" height="1" fill="#707070"/>
<rect x="1384" y="4" width="1" height="1" fill="#707070"/>
<rect x="1382" y="4" width="1" height="1" fill="#707070"/>
<rect x="1384" y="12" width="1" height="1" fill="#707070"/>
<rect x="1381" y="11" width="1" height="1" fill="#707070"/>
<rect x="1381" y="5" width="1" height="1" fill="#707070"/>
<rect x="1385" y="11" width="1" height="1" fill="#707070"/>
<rect x="1385" y="5" width="1" height="1" fill="#707070"/>
<rect x="1380" y="6" width="1" height="1" fill="#707070"/>
<rect x="1386" y="6" width="1" height="1" fill="#707070"/>
<rect x="1386" y="10" width="1" height="1" fill="#707070"/>
<rect x="1380" y="10" width="1" height="1" fill="#707070"/>
<rect x="1387" y="7" width="1" height="1" fill="#707070"/>
<rect x="1379" y="9" width="1" height="1" fill="#707070"/>
<rect x="1387" y="9" width="1" height="1" fill="#707070"/>
<rect x="1379" y="7" width="1" height="1" fill="#707070"/>
<rect x="1388" y="8" width="1" height="1" fill="#707070"/>
<rect x="1378" y="8" width="1" height="1" fill="#707070"/>
<rect x="1396.5" y="3.5" width="11" height="10" rx="2" ry="2" stroke="#888888" stroke-width="1" fill="none" shape-rendering="auto"/>
<rect x="1403" y="5" width="3" height="7" fill="#8c8c8c"/>
<circle cx="7" cy="608.8" r="6.05" fill="#808080" shape-rendering="auto"/>
<path d="M4.1 607.9L6.5 610.3L7.5 610.3L9.9 607.9" stroke="#141414" stroke-width="1.15" fill="none" shape-rendering="auto"/>
<text x="16.6" y="613.2" fill="#c3c3c3" font-size="11.9" text-anchor="start" font-family="&quot;Liberation Sans&quot;,&quot;Noto Sans CJK SC&quot;,sans-serif" shape-rendering="auto">主抓小妖股</text>
<text x="76.6" y="613.2" fill="#c3c3c3" font-size="12.4" text-anchor="start">F</text>
<text x="87.9" y="613.2" fill="#ffffff" font-size="11.9" text-anchor="start" font-family="&quot;Liberation Sans&quot;,&quot;Noto Sans CJK SC&quot;,sans-serif" shape-rendering="auto">主抓小妖股</text>
<text x="148.2" y="613.2" fill="#ffffff" font-size="12.4" text-anchor="start">: 0.00</text>
<rect x="1" y="994" width="754" height="1" fill="#ffffff"/>
<rect x="764" y="994" width="629" height="1" fill="#ffffff"/>
<rect x="759" y="620" width="1" height="38" fill="#ffffff"/>
<rect x="758" y="658" width="1" height="74" fill="#ffffff"/>
<rect x="760" y="658" width="1" height="74" fill="#ffffff"/>
<rect x="757" y="732" width="1" height="75" fill="#ffffff"/>
<rect x="761" y="732" width="1" height="75" fill="#ffffff"/>
<rect x="756" y="807" width="1" height="75" fill="#ffffff"/>
<rect x="762" y="807" width="1" height="75" fill="#ffffff"/>
<rect x="755" y="882" width="1" height="75" fill="#ffffff"/>
<rect x="763" y="882" width="1" height="75" fill="#ffffff"/>
<rect x="754" y="957" width="1" height="38" fill="#ffffff"/>
<rect x="764" y="957" width="1" height="38" fill="#ffffff"/>
<rect x="118" y="1002" width="1" height="13" fill="#2e2e2e"/>
<text x="119.8" y="1014.2" fill="#c3c3c3" font-size="12.4" text-anchor="start">1</text>
<rect x="207" y="1002" width="1" height="13" fill="#2e2e2e"/>
<text x="208.8" y="1014.2" fill="#c3c3c3" font-size="12.4" text-anchor="start">2</text>
<rect x="296" y="1002" width="1" height="13" fill="#2e2e2e"/>
<text x="297.8" y="1014.2" fill="#c3c3c3" font-size="12.4" text-anchor="start">3</text>
<rect x="398" y="1002" width="1" height="13" fill="#2e2e2e"/>
<text x="399.8" y="1014.2" fill="#c3c3c3" font-size="12.4" text-anchor="start">4</text>
<rect x="502" y="1002" width="1" height="13" fill="#2e2e2e"/>
<text x="503.8" y="1014.2" fill="#c3c3c3" font-size="12.4" text-anchor="start">5</text>
<rect x="595" y="1002" width="1" height="13" fill="#2e2e2e"/>
<text x="596.8" y="1014.2" fill="#c3c3c3" font-size="12.4" text-anchor="start">6</text>
<rect x="694" y="1002" width="1" height="13" fill="#2e2e2e"/>
<text x="695.8" y="1014.2" fill="#c3c3c3" font-size="12.4" text-anchor="start">7</text>
<rect x="807" y="1002" width="1" height="13" fill="#2e2e2e"/>
<text x="808.8" y="1014.2" fill="#c3c3c3" font-size="12.4" text-anchor="start">8</text>
<rect x="910" y="1002" width="1" height="13" fill="#2e2e2e"/>
<text x="911.8" y="1014.2" fill="#c3c3c3" font-size="12.4" text-anchor="start">9</text>
<rect x="1018" y="1002" width="1" height="13" fill="#2e2e2e"/>
<text x="1019.8" y="1014.2" fill="#c3c3c3" font-size="12.4" text-anchor="start">10</text>
<rect x="1102" y="1002" width="1" height="13" fill="#2e2e2e"/>
<text x="1103.8" y="1014.2" fill="#c3c3c3" font-size="12.4" text-anchor="start">11</text>
<rect x="1200" y="1002" width="1" height="13" fill="#2e2e2e"/>
<text x="1201.8" y="1014.2" fill="#c3c3c3" font-size="12.4" text-anchor="start">12</text>
<rect x="1314" y="1002" width="1" height="13" fill="#2e2e2e"/>
<text x="1315.8" y="1014.2" fill="#c3c3c3" font-size="12.4" text-anchor="start">1</text>
<rect x="140" y="1002" width="1" height="2" fill="#2e2e2e"/>
<rect x="163" y="1002" width="1" height="2" fill="#2e2e2e"/>
<rect x="185" y="1002" width="1" height="2" fill="#2e2e2e"/>
<rect x="229" y="1002" width="1" height="2" fill="#2e2e2e"/>
<rect x="251" y="1002" width="1" height="2" fill="#2e2e2e"/>
<rect x="273" y="1002" width="1" height="2" fill="#2e2e2e"/>
<rect x="321" y="1002" width="1" height="2" fill="#2e2e2e"/>
<rect x="354" y="1002" width="1" height="2" fill="#2e2e2e"/>
<rect x="372" y="1002" width="1" height="2" fill="#2e2e2e"/>
<rect x="424" y="1002" width="1" height="2" fill="#2e2e2e"/>
<rect x="450" y="1002" width="1" height="2" fill="#2e2e2e"/>
<rect x="476" y="1002" width="1" height="2" fill="#2e2e2e"/>
<rect x="525" y="1002" width="1" height="2" fill="#2e2e2e"/>
<rect x="549" y="1002" width="1" height="2" fill="#2e2e2e"/>
<rect x="572" y="1002" width="1" height="2" fill="#2e2e2e"/>
<rect x="620" y="1002" width="1" height="2" fill="#2e2e2e"/>
<rect x="645" y="1002" width="1" height="2" fill="#2e2e2e"/>
<rect x="669" y="1002" width="1" height="2" fill="#2e2e2e"/>
<rect x="723" y="1002" width="1" height="2" fill="#2e2e2e"/>
<rect x="751" y="1002" width="1" height="2" fill="#2e2e2e"/>
<rect x="779" y="1002" width="1" height="2" fill="#2e2e2e"/>
<rect x="833" y="1002" width="1" height="2" fill="#2e2e2e"/>
<rect x="859" y="1002" width="1" height="2" fill="#2e2e2e"/>
<rect x="884" y="1002" width="1" height="2" fill="#2e2e2e"/>
<rect x="937" y="1002" width="1" height="2" fill="#2e2e2e"/>
<rect x="964" y="1002" width="1" height="2" fill="#2e2e2e"/>
<rect x="991" y="1002" width="1" height="2" fill="#2e2e2e"/>
<rect x="1060" y="1002" width="1" height="2" fill="#2e2e2e"/>
<rect x="1082" y="1002" width="1" height="2" fill="#2e2e2e"/>
<rect x="1127" y="1002" width="1" height="2" fill="#2e2e2e"/>
<rect x="1152" y="1002" width="1" height="2" fill="#2e2e2e"/>
<rect x="1177" y="1002" width="1" height="2" fill="#2e2e2e"/>
<rect x="1230" y="1002" width="1" height="2" fill="#2e2e2e"/>
<rect x="1257" y="1002" width="1" height="2" fill="#2e2e2e"/>
<rect x="1287" y="1002" width="1" height="2" fill="#2e2e2e"/>
<text x="1.2" y="1014.2" fill="#c3c3c3" font-size="12.4" text-anchor="start">2024</text>
<text x="29" y="1014.2" fill="#c3c3c3" font-size="12" text-anchor="start" font-family="&quot;Liberation Sans&quot;,&quot;Noto Sans CJK SC&quot;,sans-serif" shape-rendering="auto">年</text>
<text x="1425.3" y="1013.6" fill="#c3c3c3" font-size="12" text-anchor="start" font-family="&quot;Liberation Sans&quot;,&quot;Noto Sans CJK SC&quot;,sans-serif" shape-rendering="auto">日线</text>
</svg></body></html>
